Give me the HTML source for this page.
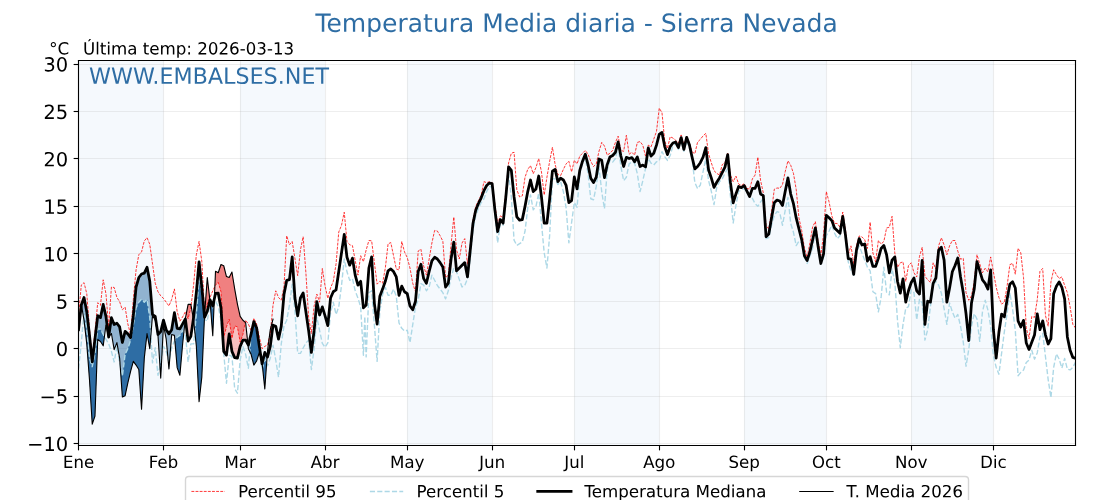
<!DOCTYPE html>
<html><head><meta charset="utf-8"><title>Temperatura Media diaria - Sierra Nevada</title>
<style>html,body{margin:0;padding:0;background:#fff;font-family:"Liberation Sans",sans-serif;}
#c{width:1120px;height:500px;overflow:hidden;position:relative}
#c svg{display:block;position:absolute;left:0;top:0}</style></head>
<body><div id="c">
<svg width="1120" height="500" viewBox="0 0 806.4 360" version="1.1">
<defs>
<style type="text/css">*{stroke-linejoin: round; stroke-linecap: butt}</style>
</defs>
<g id="figure_1">
<g id="patch_1">
<path d="M 0 360 
L 806.4 360 
L 806.4 0 
L 0 0 
z
" style="fill: #ffffff"/>
</g>
<g id="axes_1">
<g id="patch_2">
<path d="M 56.52 320.76 
L 774.36 320.76 
L 774.36 43.56 
L 56.52 43.56 
z
" style="fill: #ffffff"/>
</g>
<g id="patch_3">
<path d="M 56.556 320.76 
L 117.692712 320.76 
L 117.692712 43.56 
L 56.556 43.56 
z
" clip-path="url(#p9ce7e25676)" style="fill: #f5f9fd"/>
</g>
<g id="patch_4">
<path d="M 172.912968 320.76 
L 234.04968 320.76 
L 234.04968 43.56 
L 172.912968 43.56 
z
" clip-path="url(#p9ce7e25676)" style="fill: #f5f9fd"/>
</g>
<g id="patch_5">
<path d="M 293.21424 320.76 
L 354.350952 320.76 
L 354.350952 43.56 
L 293.21424 43.56 
z
" clip-path="url(#p9ce7e25676)" style="fill: #f5f9fd"/>
</g>
<g id="patch_6">
<path d="M 413.515512 320.76 
L 474.652224 320.76 
L 474.652224 43.56 
L 413.515512 43.56 
z
" clip-path="url(#p9ce7e25676)" style="fill: #f5f9fd"/>
</g>
<g id="patch_7">
<path d="M 535.788936 320.76 
L 594.953496 320.76 
L 594.953496 43.56 
L 535.788936 43.56 
z
" clip-path="url(#p9ce7e25676)" style="fill: #f5f9fd"/>
</g>
<g id="patch_8">
<path d="M 656.090208 320.76 
L 715.254768 320.76 
L 715.254768 43.56 
L 656.090208 43.56 
z
" clip-path="url(#p9ce7e25676)" style="fill: #f5f9fd"/>
</g>
<g id="line2d_1">
<path d="M 117.72 43.56 
L 117.72 320.76 
" style="fill: none; stroke: #b0b0b0; stroke-opacity: 0.21; stroke-width: 0.8"/>
</g>
<g id="line2d_2">
<path d="M 173.16 43.56 
L 173.16 320.76 
" style="fill: none; stroke: #b0b0b0; stroke-opacity: 0.21; stroke-width: 0.8"/>
</g>
<g id="line2d_3">
<path d="M 234.36 43.56 
L 234.36 320.76 
" style="fill: none; stroke: #b0b0b0; stroke-opacity: 0.21; stroke-width: 0.8"/>
</g>
<g id="line2d_4">
<path d="M 293.4 43.56 
L 293.4 320.76 
" style="fill: none; stroke: #b0b0b0; stroke-opacity: 0.21; stroke-width: 0.8"/>
</g>
<g id="line2d_5">
<path d="M 354.6 43.56 
L 354.6 320.76 
" style="fill: none; stroke: #b0b0b0; stroke-opacity: 0.21; stroke-width: 0.8"/>
</g>
<g id="line2d_6">
<path d="M 413.64 43.56 
L 413.64 320.76 
" style="fill: none; stroke: #b0b0b0; stroke-opacity: 0.21; stroke-width: 0.8"/>
</g>
<g id="line2d_7">
<path d="M 474.84 43.56 
L 474.84 320.76 
" style="fill: none; stroke: #b0b0b0; stroke-opacity: 0.21; stroke-width: 0.8"/>
</g>
<g id="line2d_8">
<path d="M 536.04 43.56 
L 536.04 320.76 
" style="fill: none; stroke: #b0b0b0; stroke-opacity: 0.21; stroke-width: 0.8"/>
</g>
<g id="line2d_9">
<path d="M 595.08 43.56 
L 595.08 320.76 
" style="fill: none; stroke: #b0b0b0; stroke-opacity: 0.21; stroke-width: 0.8"/>
</g>
<g id="line2d_10">
<path d="M 656.28 43.56 
L 656.28 320.76 
" style="fill: none; stroke: #b0b0b0; stroke-opacity: 0.21; stroke-width: 0.8"/>
</g>
<g id="line2d_11">
<path d="M 715.32 43.56 
L 715.32 320.76 
" style="fill: none; stroke: #b0b0b0; stroke-opacity: 0.21; stroke-width: 0.8"/>
</g>
<g id="line2d_12">
<path d="M 56.52 319.32 
L 774.36 319.32 
" style="fill: none; stroke: #b0b0b0; stroke-opacity: 0.21; stroke-width: 0.8"/>
</g>
<g id="line2d_13">
<path d="M 56.52 285.48 
L 774.36 285.48 
" style="fill: none; stroke: #b0b0b0; stroke-opacity: 0.21; stroke-width: 0.8"/>
</g>
<g id="line2d_14">
<path d="M 56.52 250.92 
L 774.36 250.92 
" style="fill: none; stroke: #b0b0b0; stroke-opacity: 0.21; stroke-width: 0.8"/>
</g>
<g id="line2d_15">
<path d="M 56.52 217.08 
L 774.36 217.08 
" style="fill: none; stroke: #b0b0b0; stroke-opacity: 0.21; stroke-width: 0.8"/>
</g>
<g id="line2d_16">
<path d="M 56.52 182.52 
L 774.36 182.52 
" style="fill: none; stroke: #b0b0b0; stroke-opacity: 0.21; stroke-width: 0.8"/>
</g>
<g id="line2d_17">
<path d="M 56.52 148.68 
L 774.36 148.68 
" style="fill: none; stroke: #b0b0b0; stroke-opacity: 0.21; stroke-width: 0.8"/>
</g>
<g id="line2d_18">
<path d="M 56.52 114.12 
L 774.36 114.12 
" style="fill: none; stroke: #b0b0b0; stroke-opacity: 0.21; stroke-width: 0.8"/>
</g>
<g id="line2d_19">
<path d="M 56.52 80.28 
L 774.36 80.28 
" style="fill: none; stroke: #b0b0b0; stroke-opacity: 0.21; stroke-width: 0.8"/>
</g>
<g id="line2d_20">
<path d="M 56.52 46.44 
L 774.36 46.44 
" style="fill: none; stroke: #b0b0b0; stroke-opacity: 0.21; stroke-width: 0.8"/>
</g>
<g id="FillBetweenPolyCollection_1">
<path d="M 58.607038 219.402876 
L 60.500304 230.55048 
L 62.472456 247.62708 
L 64.444608 273.583512 
L 66.41676 305.345988 
L 68.388912 299.539944 
L 70.361064 244.484986 
L 72.333216 245.851114 
L 74.305368 248.993208 
L 76.27752 233.9658 
L 78.249672 242.845632 
L 80.221824 240.113376 
L 82.193976 251.725464 
L 84.166128 246.67079 
L 86.13828 257.87304 
L 88.110432 285.878664 
L 90.082584 284.922374 
L 92.054736 275.632704 
L 94.026888 267.435936 
L 95.99904 260.195458 
L 97.971192 262.859407 
L 99.943344 266.069808 
L 101.915496 294.553577 
L 103.887648 257.87304 
L 105.8598 240.113376 
L 107.831952 251.0424 
L 109.804104 227.13516 
L 111.776256 230.55048 
L 113.748408 241.479504 
L 115.72056 272.217384 
L 117.692712 233.9658 
L 119.664864 244.21176 
L 121.637016 265.591663 
L 123.609168 240.79644 
L 125.58132 241.479504 
L 127.553472 264.70368 
L 129.525624 270.168192 
L 131.497776 247.62708 
L 133.415146 229.69665 
L 131.497776 233.282736 
L 129.525624 236.766362 
L 127.553472 236.356524 
L 125.58132 225.085968 
L 123.609168 237.38112 
L 121.637016 240.386602 
L 119.664864 237.38112 
L 117.692712 230.55048 
L 115.72056 238.747248 
L 113.748408 240.79644 
L 111.776256 227.818224 
L 109.804104 226.452096 
L 107.831952 202.544856 
L 105.8598 192.435509 
L 103.887648 196.670506 
L 101.915496 197.285263 
L 99.943344 199.8126 
L 97.971192 206.64324 
L 95.99904 227.13516 
L 94.026888 243.050551 
L 92.054736 240.386602 
L 90.082584 238.610635 
L 88.110432 246.602484 
L 86.13828 235.400234 
L 84.166128 232.736285 
L 82.193976 233.624268 
L 80.221824 228.706207 
L 78.249672 242.640713 
L 76.27752 227.818224 
L 74.305368 219.211618 
L 72.333216 228.706207 
L 70.361064 227.340079 
L 68.388912 244.21176 
L 66.41676 260.605296 
L 64.444608 241.479504 
L 62.472456 224.402904 
L 60.500304 214.156944 
z
" clip-path="url(#p9ce7e25676)" style="fill: #2e6da4; fill-opacity: 0.5"/>
<path d="M 139.225173 229.618014 
L 139.386384 230.55048 
L 141.358536 248.993208 
L 143.330688 289.157371 
L 145.30284 271.53432 
L 147.234329 228.050607 
L 145.30284 206.64324 
L 143.330688 188.542044 
L 141.358536 210.741624 
L 139.386384 228.501288 
z
" clip-path="url(#p9ce7e25676)" style="fill: #2e6da4; fill-opacity: 0.5"/>
<path d="M 151.139127 216.197806 
L 151.219296 216.8892 
L 153.191448 241.75273 
L 154.323543 215.128718 
L 153.191448 220.30452 
L 151.219296 215.864604 
z
" clip-path="url(#p9ce7e25676)" style="fill: #2e6da4; fill-opacity: 0.5"/>
<path d="M 178.500732 247.91169 
L 178.829424 251.0424 
L 180.801576 255.140784 
L 182.773728 262.859407 
L 184.74588 259.922232 
L 186.718032 253.774656 
L 188.423677 260.272995 
L 186.718032 249.403046 
L 184.74588 236.014992 
L 182.773728 231.575076 
L 180.801576 240.386602 
L 178.829424 248.515063 
z
" clip-path="url(#p9ce7e25676)" style="fill: #2e6da4; fill-opacity: 0.5"/>
<path d="M 188.740239 261.763384 
L 190.662336 280.004314 
L 192.337793 256.560106 
L 190.662336 253.774656 
z
" clip-path="url(#p9ce7e25676)" style="fill: #2e6da4; fill-opacity: 0.5"/>
</g>
<g id="FillBetweenPolyCollection_2">
<path d="M 56.556 236.014992 
L 56.556 236.014992 
L 58.528152 218.938392 
L 58.607038 219.402876 
L 58.528152 219.621456 
L 56.556 237.38112 
z
" clip-path="url(#p9ce7e25676)" style="fill: #f08080; fill-opacity: 0.5"/>
<path d="M 133.415146 229.69665 
L 133.469928 229.184352 
L 135.44208 219.143311 
L 137.414232 219.143311 
L 139.225173 229.618014 
L 137.414232 242.162568 
L 135.44208 245.577888 
L 133.469928 229.59419 
z
" clip-path="url(#p9ce7e25676)" style="fill: #f08080; fill-opacity: 0.5"/>
<path d="M 147.234329 228.050607 
L 147.274992 227.13516 
L 149.247144 199.880906 
L 151.139127 216.197806 
L 149.247144 224.061372 
L 147.274992 228.501288 
z
" clip-path="url(#p9ce7e25676)" style="fill: #f08080; fill-opacity: 0.5"/>
<path d="M 154.323543 215.128718 
L 155.1636 195.372684 
L 157.135752 196.39728 
L 159.107904 190.454623 
L 161.080056 191.342606 
L 163.052208 199.129536 
L 165.02436 199.8126 
L 166.996512 195.850829 
L 168.968664 208.009368 
L 170.940816 218.938392 
L 172.912968 227.818224 
L 174.88512 230.55048 
L 176.857272 232.25814 
L 178.500732 247.91169 
L 176.857272 244.894824 
L 174.88512 244.894824 
L 172.912968 249.403046 
L 170.940816 257.87304 
L 168.968664 257.463202 
L 166.996512 252.954979 
L 165.02436 240.386602 
L 163.052208 255.687235 
L 161.080056 252.954979 
L 159.107904 221.670648 
L 157.135752 211.083156 
L 155.1636 211.288075 
z
" clip-path="url(#p9ce7e25676)" style="fill: #f08080; fill-opacity: 0.5"/>
<path d="M 188.423677 260.272995 
L 188.690184 261.28836 
L 188.740239 261.763384 
L 188.690184 261.971424 
z
" clip-path="url(#p9ce7e25676)" style="fill: #f08080; fill-opacity: 0.5"/>
<path d="M 192.337793 256.560106 
L 192.634488 252.408528 
L 194.60664 237.38112 
L 196.578792 229.867416 
L 196.578792 229.867416 
L 196.578792 234.102413 
L 194.60664 249.403046 
L 192.634488 257.053363 
z
" clip-path="url(#p9ce7e25676)" style="fill: #f08080; fill-opacity: 0.5"/>
</g>
<g id="FillBetweenPolyCollection_3">
<path d="M 60.17832 228.654629 
L 60.500304 230.55048 
L 62.472456 247.62708 
L 64.444608 273.583512 
L 66.41676 305.345988 
L 68.388912 299.539944 
L 70.361064 244.484986 
L 72.333216 245.851114 
L 74.305368 248.993208 
L 75.18188 242.31436 
L 74.305368 240.79644 
L 72.333216 237.039588 
L 70.361064 236.698056 
L 68.388912 254.45772 
L 66.41676 264.020616 
L 64.444608 257.87304 
L 62.472456 237.38112 
L 60.500304 225.085968 
z
" clip-path="url(#p9ce7e25676)" style="fill: #2e6da4"/>
<path d="M 86.503493 263.059267 
L 88.110432 285.878664 
L 90.082584 284.922374 
L 92.054736 275.632704 
L 94.026888 267.435936 
L 95.99904 260.195458 
L 97.971192 262.859407 
L 99.943344 266.069808 
L 101.915496 294.553577 
L 103.887648 257.87304 
L 105.8598 240.113376 
L 107.831952 251.0424 
L 108.611751 241.589356 
L 107.831952 228.706207 
L 105.8598 215.523072 
L 103.887648 217.572264 
L 101.915496 215.523072 
L 99.943344 217.572264 
L 97.971192 221.670648 
L 95.99904 233.9658 
L 94.026888 244.894824 
L 92.054736 251.0424 
L 90.082584 255.140784 
L 88.110432 270.851256 
z
" clip-path="url(#p9ce7e25676)" style="fill: #2e6da4"/>
<path d="M 115.176518 263.737969 
L 115.72056 272.217384 
L 116.538032 256.361805 
L 115.72056 261.28836 
z
" clip-path="url(#p9ce7e25676)" style="fill: #2e6da4"/>
<path d="M 120.927818 257.903324 
L 121.637016 265.591663 
L 122.312918 257.09377 
L 121.637016 260.605296 
z
" clip-path="url(#p9ce7e25676)" style="fill: #2e6da4"/>
<path d="M 125.892712 245.146479 
L 127.553472 264.70368 
L 129.525624 270.168192 
L 131.497776 247.62708 
L 132.388425 239.298106 
L 131.497776 238.064184 
L 129.525624 241.479504 
L 127.553472 242.845632 
z
" clip-path="url(#p9ce7e25676)" style="fill: #2e6da4"/>
<path d="M 140.23645 238.499932 
L 141.358536 248.993208 
L 143.330688 289.157371 
L 145.30284 271.53432 
L 147.191071 229.024486 
L 145.30284 210.05856 
L 143.330688 199.8126 
L 141.358536 226.452096 
z
" clip-path="url(#p9ce7e25676)" style="fill: #2e6da4"/>
<path d="M 151.344911 218.472864 
L 153.191448 241.75273 
L 154.140405 219.435654 
L 153.191448 221.670648 
z
" clip-path="url(#p9ce7e25676)" style="fill: #2e6da4"/>
<path d="M 179.806018 253.071888 
L 180.801576 255.140784 
L 182.773728 262.859407 
L 184.74588 259.922232 
L 186.718032 253.774656 
L 187.628256 257.242519 
L 186.718032 249.676272 
L 184.74588 236.356524 
L 182.773728 231.916608 
L 180.801576 240.79644 
z
" clip-path="url(#p9ce7e25676)" style="fill: #2e6da4"/>
<path d="M 189.049691 264.700122 
L 190.662336 280.004314 
L 191.968783 261.723561 
L 190.662336 258.556104 
z
" clip-path="url(#p9ce7e25676)" style="fill: #2e6da4"/>
</g>
<g id="FillBetweenPolyCollection_4">
<path d="M 134.094592 226.003932 
L 135.44208 219.143311 
L 137.414232 219.143311 
L 137.593519 220.180327 
L 137.414232 221.670648 
L 135.44208 229.457578 
z
" clip-path="url(#p9ce7e25676)" style="fill: #f08080"/>
<path d="M 147.574711 222.993176 
L 149.247144 199.880906 
L 150.972004 214.756499 
L 149.247144 218.938392 
z
" clip-path="url(#p9ce7e25676)" style="fill: #f08080"/>
<path d="M 154.701626 206.237153 
L 155.1636 195.372684 
L 157.135752 196.39728 
L 159.107904 190.454623 
L 161.080056 191.342606 
L 163.052208 199.129536 
L 165.02436 199.8126 
L 166.996512 195.850829 
L 168.968664 208.009368 
L 170.940816 218.938392 
L 172.912968 227.818224 
L 174.88512 230.55048 
L 176.575536 232.014189 
L 174.88512 240.79644 
L 172.912968 246.260952 
L 170.940816 235.331928 
L 168.968664 234.648864 
L 166.996512 243.528696 
L 165.02436 229.867416 
L 163.052208 235.331928 
L 161.080056 242.845632 
L 159.107904 210.05856 
L 157.135752 203.22792 
L 155.1636 205.277112 
z
" clip-path="url(#p9ce7e25676)" style="fill: #f08080"/>
<path d="M 193.817779 243.392083 
L 194.60664 237.38112 
L 195.02183 235.799288 
L 194.60664 240.113376 
z
" clip-path="url(#p9ce7e25676)" style="fill: #f08080"/>
</g>
<g id="matplotlib.axis_1">
<g id="xtick_1">
<g id="line2d_21"/>
<g id="text_1">
<!-- Ene -->
<g transform="translate(45.270375 336.878125) scale(0.12 -0.12)">
<defs>
<path id="DejaVuSans-45" d="M 628 4666 
L 3578 4666 
L 3578 4134 
L 1259 4134 
L 1259 2753 
L 3481 2753 
L 3481 2222 
L 1259 2222 
L 1259 531 
L 3634 531 
L 3634 0 
L 628 0 
L 628 4666 
z
" transform="scale(0.015625)"/>
<path id="DejaVuSans-6e" d="M 3513 2113 
L 3513 0 
L 2938 0 
L 2938 2094 
Q 2938 2591 2744 2837 
Q 2550 3084 2163 3084 
Q 1697 3084 1428 2787 
Q 1159 2491 1159 1978 
L 1159 0 
L 581 0 
L 581 3500 
L 1159 3500 
L 1159 2956 
Q 1366 3272 1645 3428 
Q 1925 3584 2291 3584 
Q 2894 3584 3203 3211 
Q 3513 2838 3513 2113 
z
" transform="scale(0.015625)"/>
<path id="DejaVuSans-65" d="M 3597 1894 
L 3597 1613 
L 953 1613 
Q 991 1019 1311 708 
Q 1631 397 2203 397 
Q 2534 397 2845 478 
Q 3156 559 3463 722 
L 3463 178 
Q 3153 47 2828 -22 
Q 2503 -91 2169 -91 
Q 1331 -91 842 396 
Q 353 884 353 1716 
Q 353 2575 817 3079 
Q 1281 3584 2069 3584 
Q 2775 3584 3186 3129 
Q 3597 2675 3597 1894 
z
M 3022 2063 
Q 3016 2534 2758 2815 
Q 2500 3097 2075 3097 
Q 1594 3097 1305 2825 
Q 1016 2553 972 2059 
L 3022 2063 
z
" transform="scale(0.015625)"/>
</defs>
<use href="#DejaVuSans-45"/>
<use href="#DejaVuSans-6e" transform="translate(63.183594 0)"/>
<use href="#DejaVuSans-65" transform="translate(126.5625 0)"/>
</g>
</g>
</g>
<g id="xtick_2">
<g id="line2d_22"/>
<g id="text_2">
<!-- Feb -->
<g transform="translate(107.070837 336.878125) scale(0.12 -0.12)">
<defs>
<path id="DejaVuSans-46" d="M 628 4666 
L 3309 4666 
L 3309 4134 
L 1259 4134 
L 1259 2759 
L 3109 2759 
L 3109 2228 
L 1259 2228 
L 1259 0 
L 628 0 
L 628 4666 
z
" transform="scale(0.015625)"/>
<path id="DejaVuSans-62" d="M 3116 1747 
Q 3116 2381 2855 2742 
Q 2594 3103 2138 3103 
Q 1681 3103 1420 2742 
Q 1159 2381 1159 1747 
Q 1159 1113 1420 752 
Q 1681 391 2138 391 
Q 2594 391 2855 752 
Q 3116 1113 3116 1747 
z
M 1159 2969 
Q 1341 3281 1617 3432 
Q 1894 3584 2278 3584 
Q 2916 3584 3314 3078 
Q 3713 2572 3713 1747 
Q 3713 922 3314 415 
Q 2916 -91 2278 -91 
Q 1894 -91 1617 61 
Q 1341 213 1159 525 
L 1159 0 
L 581 0 
L 581 4863 
L 1159 4863 
L 1159 2969 
z
" transform="scale(0.015625)"/>
</defs>
<use href="#DejaVuSans-46"/>
<use href="#DejaVuSans-65" transform="translate(52.019531 0)"/>
<use href="#DejaVuSans-62" transform="translate(113.542969 0)"/>
</g>
</g>
</g>
<g id="xtick_3">
<g id="line2d_23"/>
<g id="text_3">
<!-- Mar -->
<g transform="translate(161.592656 336.878125) scale(0.12 -0.12)">
<defs>
<path id="DejaVuSans-4d" d="M 628 4666 
L 1569 4666 
L 2759 1491 
L 3956 4666 
L 4897 4666 
L 4897 0 
L 4281 0 
L 4281 4097 
L 3078 897 
L 2444 897 
L 1241 4097 
L 1241 0 
L 628 0 
L 628 4666 
z
" transform="scale(0.015625)"/>
<path id="DejaVuSans-61" d="M 2194 1759 
Q 1497 1759 1228 1600 
Q 959 1441 959 1056 
Q 959 750 1161 570 
Q 1363 391 1709 391 
Q 2188 391 2477 730 
Q 2766 1069 2766 1631 
L 2766 1759 
L 2194 1759 
z
M 3341 1997 
L 3341 0 
L 2766 0 
L 2766 531 
Q 2569 213 2275 61 
Q 1981 -91 1556 -91 
Q 1019 -91 701 211 
Q 384 513 384 1019 
Q 384 1609 779 1909 
Q 1175 2209 1959 2209 
L 2766 2209 
L 2766 2266 
Q 2766 2663 2505 2880 
Q 2244 3097 1772 3097 
Q 1472 3097 1187 3025 
Q 903 2953 641 2809 
L 641 3341 
Q 956 3463 1253 3523 
Q 1550 3584 1831 3584 
Q 2591 3584 2966 3190 
Q 3341 2797 3341 1997 
z
" transform="scale(0.015625)"/>
<path id="DejaVuSans-72" d="M 2631 2963 
Q 2534 3019 2420 3045 
Q 2306 3072 2169 3072 
Q 1681 3072 1420 2755 
Q 1159 2438 1159 1844 
L 1159 0 
L 581 0 
L 581 3500 
L 1159 3500 
L 1159 2956 
Q 1341 3275 1631 3429 
Q 1922 3584 2338 3584 
Q 2397 3584 2469 3576 
Q 2541 3569 2628 3553 
L 2631 2963 
z
" transform="scale(0.015625)"/>
</defs>
<use href="#DejaVuSans-4d"/>
<use href="#DejaVuSans-61" transform="translate(86.279297 0)"/>
<use href="#DejaVuSans-72" transform="translate(147.558594 0)"/>
</g>
</g>
</g>
<g id="xtick_4">
<g id="line2d_24"/>
<g id="text_4">
<!-- Abr -->
<g transform="translate(223.66968 336.878125) scale(0.12 -0.12)">
<defs>
<path id="DejaVuSans-41" d="M 2188 4044 
L 1331 1722 
L 3047 1722 
L 2188 4044 
z
M 1831 4666 
L 2547 4666 
L 4325 0 
L 3669 0 
L 3244 1197 
L 1141 1197 
L 716 0 
L 50 0 
L 1831 4666 
z
" transform="scale(0.015625)"/>
</defs>
<use href="#DejaVuSans-41"/>
<use href="#DejaVuSans-62" transform="translate(68.408203 0)"/>
<use href="#DejaVuSans-72" transform="translate(131.884766 0)"/>
</g>
</g>
</g>
<g id="xtick_5">
<g id="line2d_25"/>
<g id="text_5">
<!-- May -->
<g transform="translate(280.80924 336.878125) scale(0.12 -0.12)">
<defs>
<path id="DejaVuSans-79" d="M 2059 -325 
Q 1816 -950 1584 -1140 
Q 1353 -1331 966 -1331 
L 506 -1331 
L 506 -850 
L 844 -850 
Q 1081 -850 1212 -737 
Q 1344 -625 1503 -206 
L 1606 56 
L 191 3500 
L 800 3500 
L 1894 763 
L 2988 3500 
L 3597 3500 
L 2059 -325 
z
" transform="scale(0.015625)"/>
</defs>
<use href="#DejaVuSans-4d"/>
<use href="#DejaVuSans-61" transform="translate(86.279297 0)"/>
<use href="#DejaVuSans-79" transform="translate(147.558594 0)"/>
</g>
</g>
</g>
<g id="xtick_6">
<g id="line2d_26"/>
<g id="text_6">
<!-- Jun -->
<g transform="translate(344.975952 336.878125) scale(0.12 -0.12)">
<defs>
<path id="DejaVuSans-4a" d="M 628 4666 
L 1259 4666 
L 1259 325 
Q 1259 -519 939 -900 
Q 619 -1281 -91 -1281 
L -331 -1281 
L -331 -750 
L -134 -750 
Q 284 -750 456 -515 
Q 628 -281 628 325 
L 628 4666 
z
" transform="scale(0.015625)"/>
<path id="DejaVuSans-75" d="M 544 1381 
L 544 3500 
L 1119 3500 
L 1119 1403 
Q 1119 906 1312 657 
Q 1506 409 1894 409 
Q 2359 409 2629 706 
Q 2900 1003 2900 1516 
L 2900 3500 
L 3475 3500 
L 3475 0 
L 2900 0 
L 2900 538 
Q 2691 219 2414 64 
Q 2138 -91 1772 -91 
Q 1169 -91 856 284 
Q 544 659 544 1381 
z
M 1991 3584 
L 1991 3584 
z
" transform="scale(0.015625)"/>
</defs>
<use href="#DejaVuSans-4a"/>
<use href="#DejaVuSans-75" transform="translate(29.492188 0)"/>
<use href="#DejaVuSans-6e" transform="translate(92.871094 0)"/>
</g>
</g>
</g>
<g id="xtick_7">
<g id="line2d_27"/>
<g id="text_7">
<!-- Jul -->
<g transform="translate(406.276137 336.878125) scale(0.12 -0.12)">
<defs>
<path id="DejaVuSans-6c" d="M 603 4863 
L 1178 4863 
L 1178 0 
L 603 0 
L 603 4863 
z
" transform="scale(0.015625)"/>
</defs>
<use href="#DejaVuSans-4a"/>
<use href="#DejaVuSans-75" transform="translate(29.492188 0)"/>
<use href="#DejaVuSans-6c" transform="translate(92.871094 0)"/>
</g>
</g>
</g>
<g id="xtick_8">
<g id="line2d_28"/>
<g id="text_8">
<!-- Ago -->
<g transform="translate(463.067537 336.878125) scale(0.12 -0.12)">
<defs>
<path id="DejaVuSans-67" d="M 2906 1791 
Q 2906 2416 2648 2759 
Q 2391 3103 1925 3103 
Q 1463 3103 1205 2759 
Q 947 2416 947 1791 
Q 947 1169 1205 825 
Q 1463 481 1925 481 
Q 2391 481 2648 825 
Q 2906 1169 2906 1791 
z
M 3481 434 
Q 3481 -459 3084 -895 
Q 2688 -1331 1869 -1331 
Q 1566 -1331 1297 -1286 
Q 1028 -1241 775 -1147 
L 775 -588 
Q 1028 -725 1275 -790 
Q 1522 -856 1778 -856 
Q 2344 -856 2625 -561 
Q 2906 -266 2906 331 
L 2906 616 
Q 2728 306 2450 153 
Q 2172 0 1784 0 
Q 1141 0 747 490 
Q 353 981 353 1791 
Q 353 2603 747 3093 
Q 1141 3584 1784 3584 
Q 2172 3584 2450 3431 
Q 2728 3278 2906 2969 
L 2906 3500 
L 3481 3500 
L 3481 434 
z
" transform="scale(0.015625)"/>
<path id="DejaVuSans-6f" d="M 1959 3097 
Q 1497 3097 1228 2736 
Q 959 2375 959 1747 
Q 959 1119 1226 758 
Q 1494 397 1959 397 
Q 2419 397 2687 759 
Q 2956 1122 2956 1747 
Q 2956 2369 2687 2733 
Q 2419 3097 1959 3097 
z
M 1959 3584 
Q 2709 3584 3137 3096 
Q 3566 2609 3566 1747 
Q 3566 888 3137 398 
Q 2709 -91 1959 -91 
Q 1206 -91 779 398 
Q 353 888 353 1747 
Q 353 2609 779 3096 
Q 1206 3584 1959 3584 
z
" transform="scale(0.015625)"/>
</defs>
<use href="#DejaVuSans-41"/>
<use href="#DejaVuSans-67" transform="translate(68.408203 0)"/>
<use href="#DejaVuSans-6f" transform="translate(131.884766 0)"/>
</g>
</g>
</g>
<g id="xtick_9">
<g id="line2d_29"/>
<g id="text_9">
<!-- Sep -->
<g transform="translate(524.478936 336.878125) scale(0.12 -0.12)">
<defs>
<path id="DejaVuSans-53" d="M 3425 4513 
L 3425 3897 
Q 3066 4069 2747 4153 
Q 2428 4238 2131 4238 
Q 1616 4238 1336 4038 
Q 1056 3838 1056 3469 
Q 1056 3159 1242 3001 
Q 1428 2844 1947 2747 
L 2328 2669 
Q 3034 2534 3370 2195 
Q 3706 1856 3706 1288 
Q 3706 609 3251 259 
Q 2797 -91 1919 -91 
Q 1588 -91 1214 -16 
Q 841 59 441 206 
L 441 856 
Q 825 641 1194 531 
Q 1563 422 1919 422 
Q 2459 422 2753 634 
Q 3047 847 3047 1241 
Q 3047 1584 2836 1778 
Q 2625 1972 2144 2069 
L 1759 2144 
Q 1053 2284 737 2584 
Q 422 2884 422 3419 
Q 422 4038 858 4394 
Q 1294 4750 2059 4750 
Q 2388 4750 2728 4690 
Q 3069 4631 3425 4513 
z
" transform="scale(0.015625)"/>
<path id="DejaVuSans-70" d="M 1159 525 
L 1159 -1331 
L 581 -1331 
L 581 3500 
L 1159 3500 
L 1159 2969 
Q 1341 3281 1617 3432 
Q 1894 3584 2278 3584 
Q 2916 3584 3314 3078 
Q 3713 2572 3713 1747 
Q 3713 922 3314 415 
Q 2916 -91 2278 -91 
Q 1894 -91 1617 61 
Q 1341 213 1159 525 
z
M 3116 1747 
Q 3116 2381 2855 2742 
Q 2594 3103 2138 3103 
Q 1681 3103 1420 2742 
Q 1159 2381 1159 1747 
Q 1159 1113 1420 752 
Q 1681 391 2138 391 
Q 2594 391 2855 752 
Q 3116 1113 3116 1747 
z
" transform="scale(0.015625)"/>
</defs>
<use href="#DejaVuSans-53"/>
<use href="#DejaVuSans-65" transform="translate(63.476562 0)"/>
<use href="#DejaVuSans-70" transform="translate(125 0)"/>
</g>
</g>
</g>
<g id="xtick_10">
<g id="line2d_30"/>
<g id="text_10">
<!-- Oct -->
<g transform="translate(584.579121 336.878125) scale(0.12 -0.12)">
<defs>
<path id="DejaVuSans-4f" d="M 2522 4238 
Q 1834 4238 1429 3725 
Q 1025 3213 1025 2328 
Q 1025 1447 1429 934 
Q 1834 422 2522 422 
Q 3209 422 3611 934 
Q 4013 1447 4013 2328 
Q 4013 3213 3611 3725 
Q 3209 4238 2522 4238 
z
M 2522 4750 
Q 3503 4750 4090 4092 
Q 4678 3434 4678 2328 
Q 4678 1225 4090 567 
Q 3503 -91 2522 -91 
Q 1538 -91 948 565 
Q 359 1222 359 2328 
Q 359 3434 948 4092 
Q 1538 4750 2522 4750 
z
" transform="scale(0.015625)"/>
<path id="DejaVuSans-63" d="M 3122 3366 
L 3122 2828 
Q 2878 2963 2633 3030 
Q 2388 3097 2138 3097 
Q 1578 3097 1268 2742 
Q 959 2388 959 1747 
Q 959 1106 1268 751 
Q 1578 397 2138 397 
Q 2388 397 2633 464 
Q 2878 531 3122 666 
L 3122 134 
Q 2881 22 2623 -34 
Q 2366 -91 2075 -91 
Q 1284 -91 818 406 
Q 353 903 353 1747 
Q 353 2603 823 3093 
Q 1294 3584 2113 3584 
Q 2378 3584 2631 3529 
Q 2884 3475 3122 3366 
z
" transform="scale(0.015625)"/>
<path id="DejaVuSans-74" d="M 1172 4494 
L 1172 3500 
L 2356 3500 
L 2356 3053 
L 1172 3053 
L 1172 1153 
Q 1172 725 1289 603 
Q 1406 481 1766 481 
L 2356 481 
L 2356 0 
L 1766 0 
Q 1100 0 847 248 
Q 594 497 594 1153 
L 594 3053 
L 172 3053 
L 172 3500 
L 594 3500 
L 594 4494 
L 1172 4494 
z
" transform="scale(0.015625)"/>
</defs>
<use href="#DejaVuSans-4f"/>
<use href="#DejaVuSans-63" transform="translate(78.710938 0)"/>
<use href="#DejaVuSans-74" transform="translate(133.691406 0)"/>
</g>
</g>
</g>
<g id="xtick_11">
<g id="line2d_31"/>
<g id="text_11">
<!-- Nov -->
<g transform="translate(644.378958 336.878125) scale(0.12 -0.12)">
<defs>
<path id="DejaVuSans-4e" d="M 628 4666 
L 1478 4666 
L 3547 763 
L 3547 4666 
L 4159 4666 
L 4159 0 
L 3309 0 
L 1241 3903 
L 1241 0 
L 628 0 
L 628 4666 
z
" transform="scale(0.015625)"/>
<path id="DejaVuSans-76" d="M 191 3500 
L 800 3500 
L 1894 563 
L 2988 3500 
L 3597 3500 
L 2284 0 
L 1503 0 
L 191 3500 
z
" transform="scale(0.015625)"/>
</defs>
<use href="#DejaVuSans-4e"/>
<use href="#DejaVuSans-6f" transform="translate(74.804688 0)"/>
<use href="#DejaVuSans-76" transform="translate(135.986328 0)"/>
</g>
</g>
</g>
<g id="xtick_12">
<g id="line2d_32"/>
<g id="text_12">
<!-- Dic -->
<g transform="translate(705.668831 336.878125) scale(0.12 -0.12)">
<defs>
<path id="DejaVuSans-44" d="M 1259 4147 
L 1259 519 
L 2022 519 
Q 2988 519 3436 956 
Q 3884 1394 3884 2338 
Q 3884 3275 3436 3711 
Q 2988 4147 2022 4147 
L 1259 4147 
z
M 628 4666 
L 1925 4666 
Q 3281 4666 3915 4102 
Q 4550 3538 4550 2338 
Q 4550 1131 3912 565 
Q 3275 0 1925 0 
L 628 0 
L 628 4666 
z
" transform="scale(0.015625)"/>
<path id="DejaVuSans-69" d="M 603 3500 
L 1178 3500 
L 1178 0 
L 603 0 
L 603 3500 
z
M 603 4863 
L 1178 4863 
L 1178 4134 
L 603 4134 
L 603 4863 
z
" transform="scale(0.015625)"/>
</defs>
<use href="#DejaVuSans-44"/>
<use href="#DejaVuSans-69" transform="translate(77.001953 0)"/>
<use href="#DejaVuSans-63" transform="translate(104.785156 0)"/>
</g>
</g>
</g>
</g>
<g id="matplotlib.axis_2">
<g id="ytick_1">
<g id="line2d_33"/>
<g id="text_13">
<!-- −10 -->
<g transform="translate(19.523437 324.667706) scale(0.14 -0.14)">
<defs>
<path id="DejaVuSans-2212" d="M 678 2272 
L 4684 2272 
L 4684 1741 
L 678 1741 
L 678 2272 
z
" transform="scale(0.015625)"/>
<path id="DejaVuSans-31" d="M 794 531 
L 1825 531 
L 1825 4091 
L 703 3866 
L 703 4441 
L 1819 4666 
L 2450 4666 
L 2450 531 
L 3481 531 
L 3481 0 
L 794 0 
L 794 531 
z
" transform="scale(0.015625)"/>
<path id="DejaVuSans-30" d="M 2034 4250 
Q 1547 4250 1301 3770 
Q 1056 3291 1056 2328 
Q 1056 1369 1301 889 
Q 1547 409 2034 409 
Q 2525 409 2770 889 
Q 3016 1369 3016 2328 
Q 3016 3291 2770 3770 
Q 2525 4250 2034 4250 
z
M 2034 4750 
Q 2819 4750 3233 4129 
Q 3647 3509 3647 2328 
Q 3647 1150 3233 529 
Q 2819 -91 2034 -91 
Q 1250 -91 836 529 
Q 422 1150 422 2328 
Q 422 3509 836 4129 
Q 1250 4750 2034 4750 
z
" transform="scale(0.015625)"/>
</defs>
<use href="#DejaVuSans-2212"/>
<use href="#DejaVuSans-31" transform="translate(83.789062 0)"/>
<use href="#DejaVuSans-30" transform="translate(147.412109 0)"/>
</g>
</g>
</g>
<g id="ytick_2">
<g id="line2d_34"/>
<g id="text_14">
<!-- −5 -->
<g transform="translate(28.430937 290.514506) scale(0.14 -0.14)">
<defs>
<path id="DejaVuSans-35" d="M 691 4666 
L 3169 4666 
L 3169 4134 
L 1269 4134 
L 1269 2991 
Q 1406 3038 1543 3061 
Q 1681 3084 1819 3084 
Q 2600 3084 3056 2656 
Q 3513 2228 3513 1497 
Q 3513 744 3044 326 
Q 2575 -91 1722 -91 
Q 1428 -91 1123 -41 
Q 819 9 494 109 
L 494 744 
Q 775 591 1075 516 
Q 1375 441 1709 441 
Q 2250 441 2565 725 
Q 2881 1009 2881 1497 
Q 2881 1984 2565 2268 
Q 2250 2553 1709 2553 
Q 1456 2553 1204 2497 
Q 953 2441 691 2322 
L 691 4666 
z
" transform="scale(0.015625)"/>
</defs>
<use href="#DejaVuSans-2212"/>
<use href="#DejaVuSans-35" transform="translate(83.789062 0)"/>
</g>
</g>
</g>
<g id="ytick_3">
<g id="line2d_35"/>
<g id="text_15">
<!-- 0 -->
<g transform="translate(40.1625 256.361306) scale(0.14 -0.14)">
<use href="#DejaVuSans-30"/>
</g>
</g>
</g>
<g id="ytick_4">
<g id="line2d_36"/>
<g id="text_16">
<!-- 5 -->
<g transform="translate(40.1625 222.208106) scale(0.14 -0.14)">
<use href="#DejaVuSans-35"/>
</g>
</g>
</g>
<g id="ytick_5">
<g id="line2d_37"/>
<g id="text_17">
<!-- 10 -->
<g transform="translate(31.255 188.054906) scale(0.14 -0.14)">
<use href="#DejaVuSans-31"/>
<use href="#DejaVuSans-30" transform="translate(63.623047 0)"/>
</g>
</g>
</g>
<g id="ytick_6">
<g id="line2d_38"/>
<g id="text_18">
<!-- 15 -->
<g transform="translate(31.255 153.901706) scale(0.14 -0.14)">
<use href="#DejaVuSans-31"/>
<use href="#DejaVuSans-35" transform="translate(63.623047 0)"/>
</g>
</g>
</g>
<g id="ytick_7">
<g id="line2d_39"/>
<g id="text_19">
<!-- 20 -->
<g transform="translate(31.255 119.748506) scale(0.14 -0.14)">
<defs>
<path id="DejaVuSans-32" d="M 1228 531 
L 3431 531 
L 3431 0 
L 469 0 
L 469 531 
Q 828 903 1448 1529 
Q 2069 2156 2228 2338 
Q 2531 2678 2651 2914 
Q 2772 3150 2772 3378 
Q 2772 3750 2511 3984 
Q 2250 4219 1831 4219 
Q 1534 4219 1204 4116 
Q 875 4013 500 3803 
L 500 4441 
Q 881 4594 1212 4672 
Q 1544 4750 1819 4750 
Q 2544 4750 2975 4387 
Q 3406 4025 3406 3419 
Q 3406 3131 3298 2873 
Q 3191 2616 2906 2266 
Q 2828 2175 2409 1742 
Q 1991 1309 1228 531 
z
" transform="scale(0.015625)"/>
</defs>
<use href="#DejaVuSans-32"/>
<use href="#DejaVuSans-30" transform="translate(63.623047 0)"/>
</g>
</g>
</g>
<g id="ytick_8">
<g id="line2d_40"/>
<g id="text_20">
<!-- 25 -->
<g transform="translate(31.255 85.595306) scale(0.14 -0.14)">
<use href="#DejaVuSans-32"/>
<use href="#DejaVuSans-35" transform="translate(63.623047 0)"/>
</g>
</g>
</g>
<g id="ytick_9">
<g id="line2d_41"/>
<g id="text_21">
<!-- 30 -->
<g transform="translate(31.255 51.442106) scale(0.14 -0.14)">
<defs>
<path id="DejaVuSans-33" d="M 2597 2516 
Q 3050 2419 3304 2112 
Q 3559 1806 3559 1356 
Q 3559 666 3084 287 
Q 2609 -91 1734 -91 
Q 1441 -91 1130 -33 
Q 819 25 488 141 
L 488 750 
Q 750 597 1062 519 
Q 1375 441 1716 441 
Q 2309 441 2620 675 
Q 2931 909 2931 1356 
Q 2931 1769 2642 2001 
Q 2353 2234 1838 2234 
L 1294 2234 
L 1294 2753 
L 1863 2753 
Q 2328 2753 2575 2939 
Q 2822 3125 2822 3475 
Q 2822 3834 2567 4026 
Q 2313 4219 1838 4219 
Q 1578 4219 1281 4162 
Q 984 4106 628 3988 
L 628 4550 
Q 988 4650 1302 4700 
Q 1616 4750 1894 4750 
Q 2613 4750 3031 4423 
Q 3450 4097 3450 3541 
Q 3450 3153 3228 2886 
Q 3006 2619 2597 2516 
z
" transform="scale(0.015625)"/>
</defs>
<use href="#DejaVuSans-33"/>
<use href="#DejaVuSans-30" transform="translate(63.623047 0)"/>
</g>
</g>
</g>
</g>
<g id="line2d_42">
<path d="M 56.556 227.13516 
L 58.528152 205.277112 
L 60.500304 203.501146 
L 62.472456 211.424688 
L 64.444608 236.698056 
L 66.41676 257.87304 
L 68.388912 238.747248 
L 70.361064 217.913796 
L 72.333216 219.826375 
L 74.305368 201.451954 
L 76.27752 211.424688 
L 78.249672 235.331928 
L 80.221824 206.64324 
L 82.193976 206.984772 
L 84.166128 214.156944 
L 86.13828 217.230732 
L 88.110432 223.036776 
L 90.082584 221.124197 
L 92.054736 233.282736 
L 94.026888 240.79644 
L 95.99904 215.523072 
L 97.971192 194.348088 
L 99.943344 183.419064 
L 101.915496 181.369872 
L 103.887648 173.514636 
L 105.8598 171.123912 
L 107.831952 175.90536 
L 111.776256 203.910984 
L 113.748408 210.05856 
L 115.72056 212.995735 
L 117.692712 214.840008 
L 121.637016 220.30452 
L 123.609168 215.523072 
L 125.58132 208.009368 
L 127.553472 224.402904 
L 129.525624 231.233544 
L 131.497776 228.159756 
L 133.469928 224.402904 
L 135.44208 229.457578 
L 137.414232 221.670648 
L 139.386384 205.277112 
L 141.358536 183.419064 
L 143.330688 173.856168 
L 145.30284 188.200512 
L 147.274992 223.71984 
L 153.191448 209.375496 
L 155.1636 205.277112 
L 157.135752 203.22792 
L 159.107904 210.05856 
L 161.080056 242.845632 
L 163.052208 235.331928 
L 165.02436 229.867416 
L 166.996512 243.528696 
L 168.968664 234.648864 
L 170.940816 235.331928 
L 172.912968 246.260952 
L 174.88512 240.79644 
L 176.857272 230.55048 
L 178.829424 233.282736 
L 180.801576 238.064184 
L 182.773728 229.184352 
L 184.74588 233.282736 
L 186.718032 242.845632 
L 188.690184 251.0424 
L 190.662336 249.403046 
L 192.634488 248.310144 
L 194.60664 240.113376 
L 196.578792 219.621456 
L 198.550944 209.375496 
L 200.523096 214.156944 
L 202.495248 216.206136 
L 204.4674 206.64324 
L 206.439552 169.757784 
L 208.411704 176.246892 
L 210.383856 173.856168 
L 214.32816 198.446472 
L 216.300312 180.003744 
L 218.272464 170.440848 
L 220.244616 196.39728 
L 222.216768 228.501288 
L 224.18892 240.113376 
L 226.161072 220.30452 
L 228.133224 211.76622 
L 230.105376 217.572264 
L 232.077528 193.323492 
L 234.04968 205.960176 
L 236.021832 214.840008 
L 237.993984 207.326304 
L 239.966136 202.544856 
L 241.938288 190.249704 
L 243.91044 167.025528 
L 245.882592 162.24408 
L 247.854744 152.817797 
L 249.826896 173.856168 
L 251.799048 176.246892 
L 253.7712 176.86165 
L 257.715504 198.10494 
L 259.687656 184.102128 
L 261.659808 188.405431 
L 263.63196 180.003744 
L 265.604112 173.173104 
L 267.576264 173.378023 
L 271.520568 204.594048 
L 273.49272 202.544856 
L 275.464872 203.910984 
L 277.437024 192.98196 
L 279.409176 175.563828 
L 281.381328 174.675845 
L 285.325632 193.665024 
L 287.297784 194.348088 
L 289.269936 173.856168 
L 291.242088 181.369872 
L 293.21424 185.468256 
L 295.186392 192.98196 
L 297.158544 203.910984 
L 299.130696 210.05856 
L 301.102848 180.686808 
L 303.075 179.457293 
L 305.047152 191.615832 
L 307.019304 198.10494 
L 310.963608 174.94907 
L 312.93576 165.932626 
L 314.907912 166.342464 
L 316.880064 169.757784 
L 318.852216 173.651249 
L 320.824368 199.8126 
L 322.79652 198.10494 
L 324.768672 176.246892 
L 326.740824 156.301423 
L 328.712976 180.003744 
L 330.685128 186.492852 
L 332.65728 174.94907 
L 334.629432 171.806976 
L 336.601584 190.249704 
L 338.573736 176.588424 
L 340.545888 158.145696 
L 342.51804 148.5828 
L 346.462344 140.386032 
L 348.434496 130.823136 
L 350.406648 131.5062 
L 352.3788 130.823136 
L 354.350952 131.5062 
L 356.323104 147.216672 
L 358.295256 160.877952 
L 360.267408 155.41344 
L 362.23956 156.779568 
L 364.211712 137.927002 
L 366.183864 117.366775 
L 368.156016 110.331216 
L 370.128168 109.648152 
L 372.10032 136.62918 
L 374.072472 141.75216 
L 376.044624 141.069096 
L 378.016776 127.612735 
L 379.988928 121.943304 
L 381.96108 119.211048 
L 383.933232 125.085398 
L 385.905384 120.577176 
L 387.877536 114.156374 
L 389.849688 123.787577 
L 391.82184 140.386032 
L 393.793992 127.612735 
L 395.766144 116.068954 
L 397.738296 106.027913 
L 399.710448 118.527984 
L 401.6826 125.700156 
L 403.654752 126.38322 
L 405.626904 121.943304 
L 407.599056 117.981533 
L 409.571208 116.068954 
L 411.54336 123.787577 
L 413.515512 115.454196 
L 415.487664 117.981533 
L 417.459816 112.380408 
L 421.40412 108.282024 
L 423.376272 111.01428 
L 425.348424 116.068954 
L 427.320576 119.894112 
L 429.292728 117.981533 
L 431.26488 108.965088 
L 433.237032 102.544286 
L 435.209184 105.13993 
L 437.181336 111.697344 
L 439.153488 110.331216 
L 441.12564 108.282024 
L 443.097792 102.544286 
L 445.069944 98.036064 
L 447.042096 108.282024 
L 449.014248 108.965088 
L 450.9864 97.421306 
L 452.958552 111.01428 
L 454.930704 109.648152 
L 456.902856 111.697344 
L 458.875008 102.544286 
L 460.84716 101.929529 
L 462.819312 104.525172 
L 464.791464 112.380408 
L 466.763616 104.525172 
L 468.735768 105.754687 
L 472.680072 94.620744 
L 474.652224 77.885676 
L 476.624376 81.096077 
L 478.596528 101.451384 
L 480.56868 106.915896 
L 482.540832 98.445902 
L 484.512984 99.402192 
L 486.485136 101.041546 
L 488.457288 102.954125 
L 490.42944 97.148081 
L 492.401592 104.18364 
L 494.373744 98.036064 
L 496.345896 102.817512 
L 498.318048 109.374926 
L 500.2902 110.672748 
L 502.262352 102.271061 
L 504.234504 100.358482 
L 506.206656 97.831145 
L 508.178808 95.986872 
L 510.15096 110.672748 
L 512.123112 117.161856 
L 514.095264 122.899594 
L 516.067416 124.812173 
L 518.039568 126.041688 
L 520.01172 118.527984 
L 521.983872 117.161856 
L 523.956024 110.331216 
L 525.928176 126.041688 
L 527.900328 130.823136 
L 529.87248 126.724752 
L 531.844632 132.530796 
L 533.816784 133.555392 
L 535.788936 132.189264 
L 537.761088 135.604584 
L 539.73324 136.287648 
L 541.705392 128.773944 
L 543.677544 126.041688 
L 545.649696 113.200085 
L 547.621848 129.935153 
L 549.594 139.019904 
L 551.566152 162.24408 
L 553.538304 164.976336 
L 555.510456 151.99812 
L 557.482608 136.287648 
L 559.45476 135.331358 
L 561.426912 135.604584 
L 563.399064 132.872328 
L 565.371216 123.514351 
L 567.343368 115.795728 
L 569.31552 119.006129 
L 571.287672 124.812173 
L 573.259824 136.287648 
L 575.231976 156.916181 
L 577.204128 165.932626 
L 579.17628 178.637616 
L 581.148432 185.468256 
L 583.120584 174.94907 
L 585.092736 163.336982 
L 587.064888 159.511824 
L 589.03704 173.651249 
L 591.009192 183.965515 
L 592.981344 168.528269 
L 594.953496 137.927002 
L 596.925648 145.372399 
L 598.8978 155.41344 
L 600.869952 160.877952 
L 602.842104 160.877952 
L 604.814256 163.610208 
L 606.786408 152.681184 
L 608.75856 165.6594 
L 610.730712 183.419064 
L 612.702864 176.998262 
L 614.675016 189.839866 
L 616.647168 176.998262 
L 618.61932 169.894397 
L 620.591472 170.577461 
L 622.563624 172.49004 
L 624.535776 178.910842 
L 626.507928 159.989969 
L 628.48008 182.121242 
L 630.452232 188.542044 
L 632.424384 173.173104 
L 634.396536 175.700441 
L 636.368688 173.856168 
L 638.34084 164.156659 
L 640.312992 163.610208 
L 642.285144 155.754972 
L 644.257296 182.121242 
L 646.229448 192.435509 
L 648.2016 189.225108 
L 650.173752 188.542044 
L 652.145904 202.681469 
L 654.118056 191.137687 
L 656.090208 189.225108 
L 658.06236 196.39728 
L 660.034512 199.471068 
L 662.006664 184.785192 
L 663.978816 178.022858 
L 665.950968 198.85631 
L 667.92312 201.451954 
L 669.895272 203.364533 
L 671.867424 189.225108 
L 673.839576 193.665024 
L 675.811728 176.998262 
L 677.78388 171.192218 
L 679.756032 176.383505 
L 681.728184 183.419064 
L 683.700336 176.998262 
L 685.672488 173.173104 
L 687.64464 173.173104 
L 689.616792 180.823421 
L 691.588944 186.629465 
L 693.561096 186.014707 
L 695.533248 210.741624 
L 697.5054 216.206136 
L 699.477552 212.995735 
L 701.449704 202.681469 
L 703.421856 183.419064 
L 707.36616 196.39728 
L 709.338312 193.050266 
L 711.310464 195.714216 
L 713.282616 184.990111 
L 717.22692 206.64324 
L 719.199072 214.156944 
L 721.171224 218.938392 
L 723.143376 217.572264 
L 725.115528 205.960176 
L 727.08768 190.591236 
L 729.059832 189.56664 
L 731.031984 197.421876 
L 733.004136 178.774229 
L 734.976288 182.052936 
L 736.94844 199.8126 
L 738.920592 236.014992 
L 740.892744 243.870228 
L 742.864896 227.818224 
L 744.837048 228.501288 
L 746.8092 215.864604 
L 748.781352 195.236071 
L 750.753504 193.323492 
L 752.725656 227.13516 
L 754.697808 234.853783 
L 756.66996 202.954694 
L 758.642112 194.211475 
L 760.614264 197.763408 
L 762.586416 200.495664 
L 764.558568 199.402762 
L 766.53072 205.550338 
L 768.502872 210.741624 
L 770.475024 220.987584 
L 772.447176 233.555962 
L 774.419328 236.151605 
L 774.419328 236.151605 
" clip-path="url(#p9ce7e25676)" style="fill: none; stroke-dasharray: 2.072,0.896; stroke-dashoffset: 0; stroke: #ff0000; stroke-width: 0.56"/>
</g>
<g id="line2d_43">
<path d="M 56.556 265.386744 
L 58.528152 246.944016 
L 60.500304 225.085968 
L 62.472456 237.38112 
L 64.444608 257.87304 
L 66.41676 264.020616 
L 68.388912 254.45772 
L 70.361064 236.698056 
L 72.333216 237.039588 
L 74.305368 240.79644 
L 78.249672 247.62708 
L 80.221824 252.954979 
L 82.193976 260.605296 
L 84.166128 249.403046 
L 86.13828 261.28836 
L 88.110432 270.851256 
L 90.082584 255.140784 
L 92.054736 251.0424 
L 94.026888 244.894824 
L 95.99904 233.9658 
L 97.971192 221.670648 
L 99.943344 217.572264 
L 101.915496 215.523072 
L 103.887648 217.572264 
L 105.8598 215.523072 
L 107.831952 228.706207 
L 109.804104 261.28836 
L 111.776256 250.359336 
L 113.748408 270.168192 
L 115.72056 261.28836 
L 117.692712 249.403046 
L 119.664864 253.091592 
L 121.637016 260.605296 
L 123.609168 250.359336 
L 125.58132 245.577888 
L 127.553472 242.845632 
L 129.525624 241.479504 
L 131.497776 238.064184 
L 133.469928 240.79644 
L 135.44208 260.605296 
L 137.414232 247.62708 
L 139.386384 247.62708 
L 141.358536 226.452096 
L 143.330688 199.8126 
L 145.30284 210.05856 
L 147.274992 229.867416 
L 149.247144 231.233544 
L 151.219296 218.255328 
L 153.191448 221.670648 
L 155.1636 217.025813 
L 157.135752 220.577746 
L 159.107904 230.55048 
L 161.080056 254.45772 
L 163.052208 275.90593 
L 165.02436 255.823848 
L 166.996512 256.506912 
L 168.968664 279.731088 
L 170.940816 283.146408 
L 172.912968 259.239168 
L 174.88512 249.403046 
L 176.857272 255.140784 
L 178.829424 265.113518 
L 180.801576 240.79644 
L 182.773728 231.916608 
L 184.74588 236.356524 
L 186.718032 249.676272 
L 188.690184 266.069808 
L 190.662336 258.556104 
L 192.634488 263.337552 
L 194.60664 257.87304 
L 196.578792 248.515063 
L 198.550944 259.239168 
L 200.523096 271.53432 
L 202.495248 247.62708 
L 204.4674 234.648864 
L 206.439552 230.55048 
L 208.411704 219.621456 
L 210.383856 204.594048 
L 212.356008 223.71984 
L 214.32816 254.45772 
L 216.300312 254.45772 
L 218.272464 250.564255 
L 220.244616 246.944016 
L 222.216768 244.894824 
L 224.18892 266.069808 
L 226.161072 251.0424 
L 228.133224 228.501288 
L 232.077528 247.285548 
L 234.04968 250.017804 
L 236.021832 246.944016 
L 237.993984 225.085968 
L 239.966136 217.572264 
L 241.938288 226.452096 
L 243.91044 220.987584 
L 245.882592 205.550338 
L 247.854744 186.492852 
L 249.826896 195.714216 
L 251.799048 201.861792 
L 253.7712 200.632277 
L 255.743352 209.375496 
L 257.715504 214.566782 
L 259.687656 220.987584 
L 261.659808 255.823848 
L 262.645884 227.818224 
L 263.63196 256.985057 
L 265.604112 210.741624 
L 267.576264 209.375496 
L 269.548416 233.9658 
L 271.520568 260.195458 
L 273.49272 223.71984 
L 275.464872 212.107752 
L 277.437024 206.848159 
L 279.409176 212.585897 
L 281.381328 212.585897 
L 283.35348 208.145981 
L 285.325632 213.268961 
L 287.297784 232.599672 
L 289.269936 236.42483 
L 291.242088 238.33741 
L 293.21424 237.722652 
L 295.186392 246.67079 
L 299.130696 220.987584 
L 301.102848 215.864604 
L 303.075 204.252516 
L 305.047152 205.277112 
L 307.019304 209.375496 
L 308.991456 206.64324 
L 310.963608 198.10494 
L 314.907912 205.550338 
L 318.852216 210.741624 
L 320.824368 215.18154 
L 322.79652 209.375496 
L 324.768672 199.8126 
L 326.740824 192.98196 
L 328.712976 195.714216 
L 332.65728 206.64324 
L 334.629432 205.550338 
L 336.601584 200.632277 
L 338.573736 186.15132 
L 340.545888 165.6594 
L 342.51804 155.41344 
L 344.490192 149.948928 
L 346.462344 145.850544 
L 348.434496 143.118288 
L 350.406648 137.927002 
L 352.3788 134.238456 
L 354.350952 134.92152 
L 356.323104 153.364248 
L 358.295256 174.812458 
L 360.267408 160.877952 
L 362.23956 162.24408 
L 364.211712 145.16748 
L 366.183864 125.085398 
L 368.156016 141.75216 
L 370.128168 172.899878 
L 372.10032 176.725037 
L 376.044624 174.1977 
L 378.016776 166.479077 
L 379.988928 149.744009 
L 381.96108 140.386032 
L 383.933232 151.04183 
L 385.905384 148.5828 
L 387.877536 139.019904 
L 391.82184 182.052936 
L 393.793992 192.98196 
L 395.766144 169.07472 
L 397.738296 128.773944 
L 399.710448 128.773944 
L 401.6826 132.872328 
L 403.654752 130.823136 
L 405.626904 137.927002 
L 407.599056 149.607396 
L 409.571208 174.812458 
L 413.515512 145.850544 
L 415.487664 149.265864 
L 417.459816 125.085398 
L 419.431968 117.981533 
L 421.40412 113.47331 
L 423.376272 125.085398 
L 425.348424 143.118288 
L 427.320576 143.801352 
L 429.292728 134.238456 
L 431.26488 119.894112 
L 433.237032 137.927002 
L 435.209184 150.358766 
L 437.181336 122.626368 
L 439.153488 115.454196 
L 441.12564 116.683711 
L 443.097792 114.156374 
L 445.069944 105.754687 
L 447.042096 119.894112 
L 449.014248 130.140072 
L 450.9864 127.612735 
L 452.958552 117.981533 
L 454.930704 116.683711 
L 456.902856 117.366775 
L 458.875008 125.085398 
L 460.84716 137.927002 
L 462.819312 130.140072 
L 464.791464 121.26024 
L 466.763616 114.156374 
L 468.735768 117.503388 
L 470.70792 118.80121 
L 472.680072 116.478792 
L 474.652224 115.590809 
L 476.624376 109.170007 
L 478.596528 112.790246 
L 480.56868 115.522502 
L 482.540832 111.97057 
L 484.512984 104.866704 
L 486.485136 103.568882 
L 488.457288 107.59896 
L 490.42944 102.134448 
L 492.401592 108.965088 
L 494.373744 101.451384 
L 496.345896 106.232832 
L 498.318048 114.4296 
L 500.2902 131.5062 
L 502.262352 135.809503 
L 504.234504 133.21386 
L 506.206656 123.514351 
L 508.178808 114.4296 
L 510.15096 129.935153 
L 512.123112 137.653776 
L 514.095264 147.284978 
L 516.067416 134.92152 
L 518.039568 130.823136 
L 520.01172 128.773944 
L 521.983872 124.67556 
L 523.956024 121.26024 
L 525.928176 141.478934 
L 527.900328 160.53642 
L 529.87248 147.899736 
L 531.844632 137.653776 
L 533.816784 136.970712 
L 535.788936 135.604584 
L 537.761088 138.33684 
L 539.73324 141.478934 
L 541.705392 142.776756 
L 543.677544 146.670221 
L 545.649696 148.5828 
L 547.621848 145.372399 
L 549.594 142.776756 
L 551.566152 171.806976 
L 553.538304 171.123912 
L 555.510456 162.24408 
L 557.482608 155.003602 
L 559.45476 152.407958 
L 561.426912 153.091022 
L 563.399064 162.24408 
L 565.371216 151.315056 
L 567.343368 142.161998 
L 569.31552 160.877952 
L 571.287672 167.230447 
L 573.259824 176.86165 
L 575.231976 173.651249 
L 577.204128 174.94907 
L 579.17628 185.263337 
L 581.148432 189.703253 
L 585.092736 178.774229 
L 587.064888 165.932626 
L 589.03704 180.003744 
L 591.009192 190.249704 
L 592.981344 185.263337 
L 594.953496 169.757784 
L 596.925648 166.342464 
L 598.8978 162.24408 
L 600.869952 167.708592 
L 602.842104 171.806976 
L 604.814256 169.757784 
L 606.786408 158.145696 
L 608.75856 171.806976 
L 610.730712 188.542044 
L 612.702864 195.031152 
L 614.675016 198.241553 
L 616.647168 182.121242 
L 618.61932 176.998262 
L 624.535776 192.435509 
L 626.507928 195.031152 
L 628.48008 210.05856 
L 630.452232 211.424688 
L 632.424384 224.539517 
L 634.396536 214.156944 
L 636.368688 192.435509 
L 638.34084 210.400092 
L 640.312992 212.312671 
L 642.285144 193.665024 
L 644.257296 202.681469 
L 646.229448 231.028625 
L 648.2016 250.359336 
L 650.173752 233.555962 
L 652.145904 222.01218 
L 654.118056 220.714358 
L 656.090208 208.692432 
L 658.06236 210.741624 
L 660.034512 230.345561 
L 662.006664 215.523072 
L 663.978816 218.118715 
L 665.950968 244.894824 
L 667.92312 237.38112 
L 669.895272 220.714358 
L 671.867424 205.277112 
L 673.839576 202.681469 
L 675.811728 205.277112 
L 677.78388 211.083156 
L 681.728184 233.555962 
L 683.700336 218.118715 
L 685.672488 224.539517 
L 687.64464 229.184352 
L 689.616792 226.452096 
L 691.588944 234.853783 
L 693.561096 246.397565 
L 695.533248 263.679084 
L 697.5054 251.588851 
L 699.477552 234.853783 
L 701.449704 225.837338 
L 703.421856 229.730803 
L 705.394008 245.782807 
L 707.36616 224.539517 
L 709.338312 216.206136 
L 711.310464 223.310002 
L 713.282616 234.853783 
L 715.254768 256.16538 
L 717.22692 264.362148 
L 719.199072 269.485128 
L 723.143376 238.747248 
L 725.115528 225.769032 
L 727.08768 210.741624 
L 729.059832 222.353712 
L 731.031984 238.064184 
L 733.004136 270.509724 
L 734.976288 268.119 
L 736.94844 266.41134 
L 738.920592 260.946828 
L 740.892744 259.239168 
L 742.864896 252.203609 
L 744.837048 258.556104 
L 746.8092 254.116188 
L 748.781352 242.572406 
L 750.753504 239.976763 
L 754.697808 273.446899 
L 756.66996 286.288502 
L 758.642112 264.430454 
L 760.614264 254.799252 
L 762.586416 258.556104 
L 764.558568 265.045212 
L 766.53072 258.009653 
L 768.502872 265.728276 
L 770.475024 266.343034 
L 772.447176 264.430454 
L 774.419328 260.605296 
L 774.419328 260.605296 
" clip-path="url(#p9ce7e25676)" style="fill: none; stroke-dasharray: 3.7,1.6; stroke-dashoffset: 0; stroke: #add8e6"/>
</g>
<g id="line2d_44">
<path d="M 56.556 236.014992 
L 58.528152 218.938392 
L 60.500304 230.55048 
L 62.472456 247.62708 
L 64.444608 273.583512 
L 66.41676 305.345988 
L 68.388912 299.539944 
L 70.361064 244.484986 
L 72.333216 245.851114 
L 74.305368 248.993208 
L 76.27752 233.9658 
L 78.249672 242.845632 
L 80.221824 240.113376 
L 82.193976 251.725464 
L 84.166128 246.67079 
L 86.13828 257.87304 
L 88.110432 285.878664 
L 90.082584 284.922374 
L 92.054736 275.632704 
L 94.026888 267.435936 
L 95.99904 260.195458 
L 97.971192 262.859407 
L 99.943344 266.069808 
L 101.915496 294.553577 
L 103.887648 257.87304 
L 105.8598 240.113376 
L 107.831952 251.0424 
L 109.804104 227.13516 
L 111.776256 230.55048 
L 113.748408 241.479504 
L 115.72056 272.217384 
L 117.692712 233.9658 
L 119.664864 244.21176 
L 121.637016 265.591663 
L 123.609168 240.79644 
L 125.58132 241.479504 
L 127.553472 264.70368 
L 129.525624 270.168192 
L 131.497776 247.62708 
L 133.469928 229.184352 
L 135.44208 219.143311 
L 137.414232 219.143311 
L 139.386384 230.55048 
L 141.358536 248.993208 
L 143.330688 289.157371 
L 145.30284 271.53432 
L 147.274992 227.13516 
L 149.247144 199.880906 
L 151.219296 216.8892 
L 153.191448 241.75273 
L 155.1636 195.372684 
L 157.135752 196.39728 
L 159.107904 190.454623 
L 161.080056 191.342606 
L 163.052208 199.129536 
L 165.02436 199.8126 
L 166.996512 195.850829 
L 168.968664 208.009368 
L 170.940816 218.938392 
L 172.912968 227.818224 
L 174.88512 230.55048 
L 176.857272 232.25814 
L 178.829424 251.0424 
L 180.801576 255.140784 
L 182.773728 262.859407 
L 184.74588 259.922232 
L 186.718032 253.774656 
L 188.690184 261.28836 
L 190.662336 280.004314 
L 192.634488 252.408528 
L 194.60664 237.38112 
L 196.578792 229.867416 
" clip-path="url(#p9ce7e25676)" style="fill: none; stroke: #000000; stroke-width: 0.8; stroke-linecap: square"/>
</g>
<g id="patch_9">
<path d="M 56.52 320.76 
L 56.52 43.56 
" style="fill: none; stroke: #000000; stroke-width: 0.8; stroke-linejoin: miter; stroke-linecap: square"/>
</g>
<g id="patch_10">
<path d="M 774.36 320.76 
L 774.36 43.56 
" style="fill: none; stroke: #000000; stroke-width: 0.8; stroke-linejoin: miter; stroke-linecap: square"/>
</g>
<g id="patch_11">
<path d="M 56.52 320.76 
L 774.36 320.76 
" style="fill: none; stroke: #000000; stroke-width: 0.8; stroke-linejoin: miter; stroke-linecap: square"/>
</g>
<g id="patch_12">
<path d="M 56.52 43.56 
L 774.36 43.56 
" style="fill: none; stroke: #000000; stroke-width: 0.8; stroke-linejoin: miter; stroke-linecap: square"/>
</g>
<g id="line2d_45">
<path d="M 56.556 237.38112 
L 58.528152 219.621456 
L 60.500304 214.156944 
L 62.472456 224.402904 
L 64.444608 241.479504 
L 66.41676 260.605296 
L 70.361064 227.340079 
L 72.333216 228.706207 
L 74.305368 219.211618 
L 76.27752 227.818224 
L 78.249672 242.640713 
L 80.221824 228.706207 
L 82.193976 233.624268 
L 84.166128 232.736285 
L 86.13828 235.400234 
L 88.110432 246.602484 
L 90.082584 238.610635 
L 92.054736 240.386602 
L 94.026888 243.050551 
L 95.99904 227.13516 
L 97.971192 206.64324 
L 99.943344 199.8126 
L 101.915496 197.285263 
L 103.887648 196.670506 
L 105.8598 192.435509 
L 107.831952 202.544856 
L 109.804104 226.452096 
L 111.776256 227.818224 
L 113.748408 240.79644 
L 115.72056 238.747248 
L 117.692712 230.55048 
L 119.664864 237.38112 
L 121.637016 240.386602 
L 123.609168 237.38112 
L 125.58132 225.085968 
L 127.553472 236.356524 
L 129.525624 236.766362 
L 133.469928 229.59419 
L 135.44208 245.577888 
L 137.414232 242.162568 
L 139.386384 228.501288 
L 141.358536 210.741624 
L 143.330688 188.542044 
L 145.30284 206.64324 
L 147.274992 228.501288 
L 149.247144 224.061372 
L 151.219296 215.864604 
L 153.191448 220.30452 
L 155.1636 211.288075 
L 157.135752 211.083156 
L 159.107904 221.670648 
L 161.080056 252.954979 
L 163.052208 255.687235 
L 165.02436 240.386602 
L 166.996512 252.954979 
L 168.968664 257.463202 
L 170.940816 257.87304 
L 172.912968 249.403046 
L 174.88512 244.894824 
L 176.857272 244.894824 
L 178.829424 248.515063 
L 180.801576 240.386602 
L 182.773728 231.575076 
L 184.74588 236.014992 
L 186.718032 249.403046 
L 188.690184 261.971424 
L 190.662336 253.774656 
L 192.634488 257.053363 
L 194.60664 249.403046 
L 196.578792 234.102413 
L 198.550944 234.990396 
L 200.523096 244.21176 
L 202.495248 234.990396 
L 204.4674 212.107752 
L 206.439552 201.861792 
L 208.411704 201.315341 
L 210.383856 184.990111 
L 212.356008 214.566782 
L 214.32816 227.408386 
L 216.300312 214.566782 
L 218.272464 210.946543 
L 222.216768 238.064184 
L 224.18892 253.774656 
L 226.161072 238.064184 
L 228.133224 217.094119 
L 230.105376 226.793628 
L 232.077528 220.987584 
L 234.04968 227.408386 
L 236.021832 234.443945 
L 237.993984 214.566782 
L 239.966136 210.05856 
L 241.938288 208.760738 
L 247.854744 168.733188 
L 249.826896 185.19503 
L 251.799048 190.932768 
L 253.7712 185.878094 
L 255.743352 198.10494 
L 257.715504 205.277112 
L 259.687656 202.544856 
L 261.659808 221.670648 
L 263.63196 219.621456 
L 265.604112 192.98196 
L 267.576264 184.990111 
L 269.548416 218.391941 
L 271.520568 233.282736 
L 273.49272 213.268961 
L 275.464872 208.145981 
L 277.437024 202.544856 
L 279.409176 195.031152 
L 281.381328 193.665024 
L 283.35348 195.509297 
L 285.325632 199.402762 
L 287.297784 212.585897 
L 289.269936 205.960176 
L 291.242088 210.05856 
L 293.21424 211.424688 
L 295.186392 220.30452 
L 297.158544 223.036776 
L 299.130696 217.094119 
L 301.102848 195.509297 
L 303.075 190.249704 
L 305.047152 200.632277 
L 307.019304 203.910984 
L 308.991456 195.509297 
L 310.963608 187.790674 
L 312.93576 185.19503 
L 314.907912 186.492852 
L 316.880064 189.088495 
L 318.852216 192.298896 
L 320.824368 206.64324 
L 322.79652 203.910984 
L 324.768672 186.492852 
L 326.740824 174.266006 
L 328.712976 195.031152 
L 332.65728 190.932768 
L 334.629432 189.088495 
L 336.601584 199.402762 
L 340.545888 160.877952 
L 342.51804 151.315056 
L 344.490192 146.533608 
L 346.462344 142.435224 
L 348.434496 137.312244 
L 350.406648 133.555392 
L 352.3788 131.779426 
L 354.350952 132.189264 
L 356.323104 151.04183 
L 358.295256 166.683996 
L 360.267408 158.145696 
L 362.23956 160.673033 
L 364.211712 141.75216 
L 366.183864 120.167338 
L 368.156016 122.626368 
L 370.128168 141.75216 
L 372.10032 156.096504 
L 374.072472 158.487228 
L 376.044624 158.145696 
L 378.016776 148.5828 
L 379.988928 137.927002 
L 381.96108 129.593621 
L 383.933232 137.927002 
L 385.905384 136.014422 
L 387.877536 126.724752 
L 389.849688 141.75216 
L 391.82184 160.673033 
L 393.793992 160.673033 
L 395.766144 143.118288 
L 397.738296 123.309432 
L 399.710448 121.943304 
L 401.6826 130.823136 
L 403.654752 128.295799 
L 405.626904 129.593621 
L 407.599056 133.555392 
L 409.571208 145.850544 
L 411.54336 144.484416 
L 413.515512 127.407816 
L 415.487664 136.014422 
L 417.459816 122.626368 
L 419.431968 116.068954 
L 421.40412 111.01428 
L 423.376272 118.527984 
L 425.348424 128.295799 
L 427.320576 131.5062 
L 429.292728 127.612735 
L 431.26488 114.497906 
L 433.237032 115.454196 
L 435.209184 127.885961 
L 437.181336 118.527984 
L 439.153488 113.063472 
L 441.12564 111.97057 
L 443.097792 109.648152 
L 445.069944 102.134448 
L 447.042096 112.380408 
L 449.014248 119.894112 
L 450.9864 113.268391 
L 452.958552 114.156374 
L 454.930704 113.47331 
L 456.902856 116.478792 
L 458.875008 113.063472 
L 460.84716 119.894112 
L 462.819312 118.869516 
L 464.791464 120.167338 
L 466.763616 106.437751 
L 468.735768 112.380408 
L 470.70792 110.331216 
L 472.680072 104.525172 
L 474.652224 96.806549 
L 476.624376 95.303808 
L 478.596528 105.549768 
L 480.56868 111.287506 
L 482.540832 105.549768 
L 484.512984 102.954125 
L 486.485136 102.271061 
L 488.457288 106.232832 
L 490.42944 99.06066 
L 492.401592 107.59896 
L 494.373744 98.855741 
L 496.345896 104.18364 
L 498.318048 113.200085 
L 500.2902 121.601772 
L 502.262352 119.894112 
L 504.234504 117.161856 
L 506.206656 113.200085 
L 508.178808 106.232832 
L 510.15096 122.21653 
L 512.123112 128.09088 
L 514.095264 134.92152 
L 516.067416 131.232974 
L 518.039568 128.09088 
L 521.983872 120.30395 
L 523.956024 111.287506 
L 525.928176 131.5062 
L 527.900328 145.987157 
L 529.87248 139.702968 
L 531.844632 134.238456 
L 533.816784 135.126439 
L 535.788936 133.555392 
L 537.761088 137.653776 
L 539.73324 141.478934 
L 541.705392 135.604584 
L 543.677544 135.604584 
L 545.649696 130.823136 
L 547.621848 139.702968 
L 549.594 140.864177 
L 551.566152 170.440848 
L 553.538304 168.528269 
L 555.510456 156.916181 
L 557.482608 145.987157 
L 559.45476 144.074578 
L 561.426912 144.689335 
L 563.399064 147.899736 
L 565.371216 137.653776 
L 567.343368 128.09088 
L 569.31552 139.702968 
L 571.287672 146.670221 
L 573.259824 156.916181 
L 577.204128 172.49004 
L 579.17628 184.102128 
L 581.148432 187.517448 
L 583.120584 181.369872 
L 587.064888 164.020046 
L 589.03704 177.544714 
L 591.009192 189.703253 
L 592.981344 182.736 
L 594.953496 155.003602 
L 596.925648 156.779568 
L 598.8978 158.82876 
L 600.869952 164.088353 
L 604.814256 167.913511 
L 606.786408 155.823278 
L 608.75856 169.484558 
L 610.730712 186.15132 
L 612.702864 186.629465 
L 614.675016 197.558489 
L 616.647168 180.208663 
L 618.61932 171.806976 
L 620.591472 176.383505 
L 622.563624 175.700441 
L 624.535776 187.927286 
L 626.507928 184.785192 
L 628.48008 191.752445 
L 630.452232 191.752445 
L 632.424384 186.014707 
L 634.396536 178.910842 
L 636.368688 176.725037 
L 638.34084 183.419064 
L 640.312992 196.39728 
L 642.285144 187.312529 
L 644.257296 184.990111 
L 646.229448 202.681469 
L 648.2016 211.083156 
L 650.173752 200.76889 
L 652.145904 217.572264 
L 654.118056 209.375496 
L 656.090208 203.364533 
L 658.06236 200.154132 
L 660.034512 209.375496 
L 662.006664 211.697914 
L 663.978816 187.517448 
L 665.950968 233.555962 
L 667.92312 216.8892 
L 669.895272 217.572264 
L 671.867424 203.97929 
L 673.839576 200.154132 
L 675.811728 180.208663 
L 677.78388 178.022858 
L 679.756032 187.312529 
L 681.728184 217.572264 
L 683.700336 207.326304 
L 685.672488 195.714216 
L 687.64464 191.137687 
L 689.616792 185.741482 
L 691.588944 199.471068 
L 693.561096 210.741624 
L 695.533248 225.837338 
L 697.5054 245.16805 
L 699.477552 218.118715 
L 701.449704 208.145981 
L 703.421856 188.337125 
L 707.36616 201.451954 
L 709.338312 203.97929 
L 711.310464 208.145981 
L 713.282616 194.348088 
L 715.254768 237.38112 
L 717.22692 257.87304 
L 719.199072 239.430312 
L 721.171224 226.110564 
L 723.143376 228.159756 
L 725.115528 215.523072 
L 727.08768 204.730661 
L 729.059832 202.886388 
L 731.031984 207.326304 
L 733.004136 231.028625 
L 734.976288 235.468541 
L 736.94844 230.687093 
L 738.920592 246.944016 
L 740.892744 251.588851 
L 744.837048 241.274585 
L 746.8092 225.973951 
L 748.781352 237.38112 
L 750.753504 231.028625 
L 752.725656 241.274585 
L 754.697808 247.695386 
L 756.66996 243.870228 
L 758.642112 211.424688 
L 760.614264 206.165095 
L 762.586416 202.954694 
L 764.558568 206.848159 
L 766.53072 215.18154 
L 768.502872 242.572406 
L 770.475024 252.203609 
L 772.447176 257.326589 
L 774.419328 258.009653 
L 774.419328 258.009653 
" clip-path="url(#p9ce7e25676)" style="fill: none; stroke: #000000; stroke-width: 2; stroke-linecap: square"/>
</g>
<g id="patch_13">
<path d="M 135.9576 343.08 
L 694.9224 343.08 
Q 697.32 343.08 697.32 345.4776 
L 697.32 366.2424 
Q 697.32 368.64 694.9224 368.64 
L 135.9576 368.64 
Q 133.56 368.64 133.56 366.2424 
L 133.56 345.4776 
Q 133.56 343.08 135.9576 343.08 
z
" style="fill: #ffffff; fill-opacity: 0.8; stroke: #cccccc; stroke-opacity: 0.8; stroke-linejoin: miter"/>
</g>
<g id="legend_1">
<g id="line2d_46">
<path d="M 137.815443 353.830845 
L 149.815443 353.830845 
L 161.815443 353.830845 
" style="fill: none; stroke-dasharray: 2.072,0.896; stroke-dashoffset: 0; stroke: #ff0000; stroke-width: 0.56"/>
</g>
<g id="text_22">
<!-- Percentil 95 -->
<g transform="translate(171.415443 358.030845) scale(0.12 -0.12)">
<defs>
<path id="DejaVuSans-50" d="M 1259 4147 
L 1259 2394 
L 2053 2394 
Q 2494 2394 2734 2622 
Q 2975 2850 2975 3272 
Q 2975 3691 2734 3919 
Q 2494 4147 2053 4147 
L 1259 4147 
z
M 628 4666 
L 2053 4666 
Q 2838 4666 3239 4311 
Q 3641 3956 3641 3272 
Q 3641 2581 3239 2228 
Q 2838 1875 2053 1875 
L 1259 1875 
L 1259 0 
L 628 0 
L 628 4666 
z
" transform="scale(0.015625)"/>
<path id="DejaVuSans-20" transform="scale(0.015625)"/>
<path id="DejaVuSans-39" d="M 703 97 
L 703 672 
Q 941 559 1184 500 
Q 1428 441 1663 441 
Q 2288 441 2617 861 
Q 2947 1281 2994 2138 
Q 2813 1869 2534 1725 
Q 2256 1581 1919 1581 
Q 1219 1581 811 2004 
Q 403 2428 403 3163 
Q 403 3881 828 4315 
Q 1253 4750 1959 4750 
Q 2769 4750 3195 4129 
Q 3622 3509 3622 2328 
Q 3622 1225 3098 567 
Q 2575 -91 1691 -91 
Q 1453 -91 1209 -44 
Q 966 3 703 97 
z
M 1959 2075 
Q 2384 2075 2632 2365 
Q 2881 2656 2881 3163 
Q 2881 3666 2632 3958 
Q 2384 4250 1959 4250 
Q 1534 4250 1286 3958 
Q 1038 3666 1038 3163 
Q 1038 2656 1286 2365 
Q 1534 2075 1959 2075 
z
" transform="scale(0.015625)"/>
</defs>
<use href="#DejaVuSans-50"/>
<use href="#DejaVuSans-65" transform="translate(56.677734 0)"/>
<use href="#DejaVuSans-72" transform="translate(118.201172 0)"/>
<use href="#DejaVuSans-63" transform="translate(157.064453 0)"/>
<use href="#DejaVuSans-65" transform="translate(212.044922 0)"/>
<use href="#DejaVuSans-6e" transform="translate(273.568359 0)"/>
<use href="#DejaVuSans-74" transform="translate(336.947266 0)"/>
<use href="#DejaVuSans-69" transform="translate(376.15625 0)"/>
<use href="#DejaVuSans-6c" transform="translate(403.939453 0)"/>
<use href="#DejaVuSans-20" transform="translate(431.722656 0)"/>
<use href="#DejaVuSans-39" transform="translate(463.509766 0)"/>
<use href="#DejaVuSans-35" transform="translate(527.132812 0)"/>
</g>
</g>
<g id="line2d_47">
<path d="M 266.305443 353.830845 
L 278.305443 353.830845 
L 290.305443 353.830845 
" style="fill: none; stroke-dasharray: 3.7,1.6; stroke-dashoffset: 0; stroke: #add8e6"/>
</g>
<g id="text_23">
<!-- Percentil 5 -->
<g transform="translate(299.905443 358.030845) scale(0.12 -0.12)">
<use href="#DejaVuSans-50"/>
<use href="#DejaVuSans-65" transform="translate(56.677734 0)"/>
<use href="#DejaVuSans-72" transform="translate(118.201172 0)"/>
<use href="#DejaVuSans-63" transform="translate(157.064453 0)"/>
<use href="#DejaVuSans-65" transform="translate(212.044922 0)"/>
<use href="#DejaVuSans-6e" transform="translate(273.568359 0)"/>
<use href="#DejaVuSans-74" transform="translate(336.947266 0)"/>
<use href="#DejaVuSans-69" transform="translate(376.15625 0)"/>
<use href="#DejaVuSans-6c" transform="translate(403.939453 0)"/>
<use href="#DejaVuSans-20" transform="translate(431.722656 0)"/>
<use href="#DejaVuSans-35" transform="translate(463.509766 0)"/>
</g>
</g>
<g id="line2d_48">
<path d="M 387.160443 353.830845 
L 399.160443 353.830845 
L 411.160443 353.830845 
" style="fill: none; stroke: #000000; stroke-width: 2; stroke-linecap: square"/>
</g>
<g id="text_24">
<!-- Temperatura Mediana -->
<g transform="translate(420.760443 358.030845) scale(0.12 -0.12)">
<defs>
<path id="DejaVuSans-54" d="M -19 4666 
L 3928 4666 
L 3928 4134 
L 2272 4134 
L 2272 0 
L 1638 0 
L 1638 4134 
L -19 4134 
L -19 4666 
z
" transform="scale(0.015625)"/>
<path id="DejaVuSans-6d" d="M 3328 2828 
Q 3544 3216 3844 3400 
Q 4144 3584 4550 3584 
Q 5097 3584 5394 3201 
Q 5691 2819 5691 2113 
L 5691 0 
L 5113 0 
L 5113 2094 
Q 5113 2597 4934 2840 
Q 4756 3084 4391 3084 
Q 3944 3084 3684 2787 
Q 3425 2491 3425 1978 
L 3425 0 
L 2847 0 
L 2847 2094 
Q 2847 2600 2669 2842 
Q 2491 3084 2119 3084 
Q 1678 3084 1418 2786 
Q 1159 2488 1159 1978 
L 1159 0 
L 581 0 
L 581 3500 
L 1159 3500 
L 1159 2956 
Q 1356 3278 1631 3431 
Q 1906 3584 2284 3584 
Q 2666 3584 2933 3390 
Q 3200 3197 3328 2828 
z
" transform="scale(0.015625)"/>
<path id="DejaVuSans-64" d="M 2906 2969 
L 2906 4863 
L 3481 4863 
L 3481 0 
L 2906 0 
L 2906 525 
Q 2725 213 2448 61 
Q 2172 -91 1784 -91 
Q 1150 -91 751 415 
Q 353 922 353 1747 
Q 353 2572 751 3078 
Q 1150 3584 1784 3584 
Q 2172 3584 2448 3432 
Q 2725 3281 2906 2969 
z
M 947 1747 
Q 947 1113 1208 752 
Q 1469 391 1925 391 
Q 2381 391 2643 752 
Q 2906 1113 2906 1747 
Q 2906 2381 2643 2742 
Q 2381 3103 1925 3103 
Q 1469 3103 1208 2742 
Q 947 2381 947 1747 
z
" transform="scale(0.015625)"/>
</defs>
<use href="#DejaVuSans-54"/>
<use href="#DejaVuSans-65" transform="translate(44.083984 0)"/>
<use href="#DejaVuSans-6d" transform="translate(105.607422 0)"/>
<use href="#DejaVuSans-70" transform="translate(203.019531 0)"/>
<use href="#DejaVuSans-65" transform="translate(266.496094 0)"/>
<use href="#DejaVuSans-72" transform="translate(328.019531 0)"/>
<use href="#DejaVuSans-61" transform="translate(369.132812 0)"/>
<use href="#DejaVuSans-74" transform="translate(430.412109 0)"/>
<use href="#DejaVuSans-75" transform="translate(469.621094 0)"/>
<use href="#DejaVuSans-72" transform="translate(533 0)"/>
<use href="#DejaVuSans-61" transform="translate(574.113281 0)"/>
<use href="#DejaVuSans-20" transform="translate(635.392578 0)"/>
<use href="#DejaVuSans-4d" transform="translate(667.179688 0)"/>
<use href="#DejaVuSans-65" transform="translate(753.458984 0)"/>
<use href="#DejaVuSans-64" transform="translate(814.982422 0)"/>
<use href="#DejaVuSans-69" transform="translate(878.458984 0)"/>
<use href="#DejaVuSans-61" transform="translate(906.242188 0)"/>
<use href="#DejaVuSans-6e" transform="translate(967.521484 0)"/>
<use href="#DejaVuSans-61" transform="translate(1030.900391 0)"/>
</g>
</g>
<g id="line2d_49">
<path d="M 575.822943 353.830845 
L 587.822943 353.830845 
L 599.822943 353.830845 
" style="fill: none; stroke: #000000; stroke-width: 0.8; stroke-linecap: square"/>
</g>
<g id="text_25">
<!-- T. Media 2026 -->
<g transform="translate(609.422943 358.030845) scale(0.12 -0.12)">
<defs>
<path id="DejaVuSans-2e" d="M 684 794 
L 1344 794 
L 1344 0 
L 684 0 
L 684 794 
z
" transform="scale(0.015625)"/>
<path id="DejaVuSans-36" d="M 2113 2584 
Q 1688 2584 1439 2293 
Q 1191 2003 1191 1497 
Q 1191 994 1439 701 
Q 1688 409 2113 409 
Q 2538 409 2786 701 
Q 3034 994 3034 1497 
Q 3034 2003 2786 2293 
Q 2538 2584 2113 2584 
z
M 3366 4563 
L 3366 3988 
Q 3128 4100 2886 4159 
Q 2644 4219 2406 4219 
Q 1781 4219 1451 3797 
Q 1122 3375 1075 2522 
Q 1259 2794 1537 2939 
Q 1816 3084 2150 3084 
Q 2853 3084 3261 2657 
Q 3669 2231 3669 1497 
Q 3669 778 3244 343 
Q 2819 -91 2113 -91 
Q 1303 -91 875 529 
Q 447 1150 447 2328 
Q 447 3434 972 4092 
Q 1497 4750 2381 4750 
Q 2619 4750 2861 4703 
Q 3103 4656 3366 4563 
z
" transform="scale(0.015625)"/>
</defs>
<use href="#DejaVuSans-54"/>
<use href="#DejaVuSans-2e" transform="translate(49.208984 0)"/>
<use href="#DejaVuSans-20" transform="translate(80.996094 0)"/>
<use href="#DejaVuSans-4d" transform="translate(112.783203 0)"/>
<use href="#DejaVuSans-65" transform="translate(199.0625 0)"/>
<use href="#DejaVuSans-64" transform="translate(260.585938 0)"/>
<use href="#DejaVuSans-69" transform="translate(324.0625 0)"/>
<use href="#DejaVuSans-61" transform="translate(351.845703 0)"/>
<use href="#DejaVuSans-20" transform="translate(413.125 0)"/>
<use href="#DejaVuSans-32" transform="translate(444.912109 0)"/>
<use href="#DejaVuSans-30" transform="translate(508.535156 0)"/>
<use href="#DejaVuSans-32" transform="translate(572.158203 0)"/>
<use href="#DejaVuSans-36" transform="translate(635.78125 0)"/>
</g>
</g>
</g>
</g>
<g id="line2d_50">
<path d="M 56.52 320.76 
L 56.52 324.26 
" style="fill: none; stroke: #000000; stroke-width: 0.8"/>
</g>
<g id="line2d_51">
<path d="M 117.72 320.76 
L 117.72 324.26 
" style="fill: none; stroke: #000000; stroke-width: 0.8"/>
</g>
<g id="line2d_52">
<path d="M 173.16 320.76 
L 173.16 324.26 
" style="fill: none; stroke: #000000; stroke-width: 0.8"/>
</g>
<g id="line2d_53">
<path d="M 234.36 320.76 
L 234.36 324.26 
" style="fill: none; stroke: #000000; stroke-width: 0.8"/>
</g>
<g id="line2d_54">
<path d="M 293.4 320.76 
L 293.4 324.26 
" style="fill: none; stroke: #000000; stroke-width: 0.8"/>
</g>
<g id="line2d_55">
<path d="M 354.6 320.76 
L 354.6 324.26 
" style="fill: none; stroke: #000000; stroke-width: 0.8"/>
</g>
<g id="line2d_56">
<path d="M 413.64 320.76 
L 413.64 324.26 
" style="fill: none; stroke: #000000; stroke-width: 0.8"/>
</g>
<g id="line2d_57">
<path d="M 474.84 320.76 
L 474.84 324.26 
" style="fill: none; stroke: #000000; stroke-width: 0.8"/>
</g>
<g id="line2d_58">
<path d="M 536.04 320.76 
L 536.04 324.26 
" style="fill: none; stroke: #000000; stroke-width: 0.8"/>
</g>
<g id="line2d_59">
<path d="M 595.08 320.76 
L 595.08 324.26 
" style="fill: none; stroke: #000000; stroke-width: 0.8"/>
</g>
<g id="line2d_60">
<path d="M 656.28 320.76 
L 656.28 324.26 
" style="fill: none; stroke: #000000; stroke-width: 0.8"/>
</g>
<g id="line2d_61">
<path d="M 715.32 320.76 
L 715.32 324.26 
" style="fill: none; stroke: #000000; stroke-width: 0.8"/>
</g>
<g id="line2d_62">
<path d="M 53.02 319.32 
L 56.52 319.32 
" style="fill: none; stroke: #000000; stroke-width: 0.8"/>
</g>
<g id="line2d_63">
<path d="M 53.02 285.48 
L 56.52 285.48 
" style="fill: none; stroke: #000000; stroke-width: 0.8"/>
</g>
<g id="line2d_64">
<path d="M 53.02 250.92 
L 56.52 250.92 
" style="fill: none; stroke: #000000; stroke-width: 0.8"/>
</g>
<g id="line2d_65">
<path d="M 53.02 217.08 
L 56.52 217.08 
" style="fill: none; stroke: #000000; stroke-width: 0.8"/>
</g>
<g id="line2d_66">
<path d="M 53.02 182.52 
L 56.52 182.52 
" style="fill: none; stroke: #000000; stroke-width: 0.8"/>
</g>
<g id="line2d_67">
<path d="M 53.02 148.68 
L 56.52 148.68 
" style="fill: none; stroke: #000000; stroke-width: 0.8"/>
</g>
<g id="line2d_68">
<path d="M 53.02 114.12 
L 56.52 114.12 
" style="fill: none; stroke: #000000; stroke-width: 0.8"/>
</g>
<g id="line2d_69">
<path d="M 53.02 80.28 
L 56.52 80.28 
" style="fill: none; stroke: #000000; stroke-width: 0.8"/>
</g>
<g id="line2d_70">
<path d="M 53.02 46.44 
L 56.52 46.44 
" style="fill: none; stroke: #000000; stroke-width: 0.8"/>
</g>
<g id="text_26">
<!-- Temperatura Media diaria - Sierra Nevada -->
<g style="fill: #2e6da4" transform="translate(227.089969 22.896) scale(0.18 -0.18)">
<defs>
<path id="DejaVuSans-2d" d="M 313 2009 
L 1997 2009 
L 1997 1497 
L 313 1497 
L 313 2009 
z
" transform="scale(0.015625)"/>
</defs>
<use href="#DejaVuSans-54"/>
<use href="#DejaVuSans-65" transform="translate(44.083984 0)"/>
<use href="#DejaVuSans-6d" transform="translate(105.607422 0)"/>
<use href="#DejaVuSans-70" transform="translate(203.019531 0)"/>
<use href="#DejaVuSans-65" transform="translate(266.496094 0)"/>
<use href="#DejaVuSans-72" transform="translate(328.019531 0)"/>
<use href="#DejaVuSans-61" transform="translate(369.132812 0)"/>
<use href="#DejaVuSans-74" transform="translate(430.412109 0)"/>
<use href="#DejaVuSans-75" transform="translate(469.621094 0)"/>
<use href="#DejaVuSans-72" transform="translate(533 0)"/>
<use href="#DejaVuSans-61" transform="translate(574.113281 0)"/>
<use href="#DejaVuSans-20" transform="translate(635.392578 0)"/>
<use href="#DejaVuSans-4d" transform="translate(667.179688 0)"/>
<use href="#DejaVuSans-65" transform="translate(753.458984 0)"/>
<use href="#DejaVuSans-64" transform="translate(814.982422 0)"/>
<use href="#DejaVuSans-69" transform="translate(878.458984 0)"/>
<use href="#DejaVuSans-61" transform="translate(906.242188 0)"/>
<use href="#DejaVuSans-20" transform="translate(967.521484 0)"/>
<use href="#DejaVuSans-64" transform="translate(999.308594 0)"/>
<use href="#DejaVuSans-69" transform="translate(1062.785156 0)"/>
<use href="#DejaVuSans-61" transform="translate(1090.568359 0)"/>
<use href="#DejaVuSans-72" transform="translate(1151.847656 0)"/>
<use href="#DejaVuSans-69" transform="translate(1192.960938 0)"/>
<use href="#DejaVuSans-61" transform="translate(1220.744141 0)"/>
<use href="#DejaVuSans-20" transform="translate(1282.023438 0)"/>
<use href="#DejaVuSans-2d" transform="translate(1313.810547 0)"/>
<use href="#DejaVuSans-20" transform="translate(1349.894531 0)"/>
<use href="#DejaVuSans-53" transform="translate(1381.681641 0)"/>
<use href="#DejaVuSans-69" transform="translate(1445.158203 0)"/>
<use href="#DejaVuSans-65" transform="translate(1472.941406 0)"/>
<use href="#DejaVuSans-72" transform="translate(1534.464844 0)"/>
<use href="#DejaVuSans-72" transform="translate(1573.828125 0)"/>
<use href="#DejaVuSans-61" transform="translate(1614.941406 0)"/>
<use href="#DejaVuSans-20" transform="translate(1676.220703 0)"/>
<use href="#DejaVuSans-4e" transform="translate(1708.007812 0)"/>
<use href="#DejaVuSans-65" transform="translate(1782.8125 0)"/>
<use href="#DejaVuSans-76" transform="translate(1844.335938 0)"/>
<use href="#DejaVuSans-61" transform="translate(1903.515625 0)"/>
<use href="#DejaVuSans-64" transform="translate(1964.794922 0)"/>
<use href="#DejaVuSans-61" transform="translate(2028.271484 0)"/>
</g>
</g>
<g id="text_27">
<!-- °C -->
<g transform="translate(35.424 39.168) scale(0.12 -0.12)">
<defs>
<path id="DejaVuSans-b0" d="M 1600 4347 
Q 1350 4347 1178 4173 
Q 1006 4000 1006 3750 
Q 1006 3503 1178 3333 
Q 1350 3163 1600 3163 
Q 1850 3163 2022 3333 
Q 2194 3503 2194 3750 
Q 2194 3997 2020 4172 
Q 1847 4347 1600 4347 
z
M 1600 4750 
Q 1800 4750 1984 4673 
Q 2169 4597 2303 4453 
Q 2447 4313 2519 4134 
Q 2591 3956 2591 3750 
Q 2591 3338 2302 3052 
Q 2013 2766 1594 2766 
Q 1172 2766 890 3047 
Q 609 3328 609 3750 
Q 609 4169 896 4459 
Q 1184 4750 1600 4750 
z
" transform="scale(0.015625)"/>
<path id="DejaVuSans-43" d="M 4122 4306 
L 4122 3641 
Q 3803 3938 3442 4084 
Q 3081 4231 2675 4231 
Q 1875 4231 1450 3742 
Q 1025 3253 1025 2328 
Q 1025 1406 1450 917 
Q 1875 428 2675 428 
Q 3081 428 3442 575 
Q 3803 722 4122 1019 
L 4122 359 
Q 3791 134 3420 21 
Q 3050 -91 2638 -91 
Q 1578 -91 968 557 
Q 359 1206 359 2328 
Q 359 3453 968 4101 
Q 1578 4750 2638 4750 
Q 3056 4750 3426 4639 
Q 3797 4528 4122 4306 
z
" transform="scale(0.015625)"/>
</defs>
<use href="#DejaVuSans-b0"/>
<use href="#DejaVuSans-43" transform="translate(50 0)"/>
</g>
</g>
<g id="text_28">
<!-- Última temp: 2026-03-13 -->
<g transform="translate(59.76 39.168) scale(0.12 -0.12)">
<defs>
<path id="DejaVuSans-da" d="M 556 4666 
L 1191 4666 
L 1191 1831 
Q 1191 1081 1462 751 
Q 1734 422 2344 422 
Q 2950 422 3222 751 
Q 3494 1081 3494 1831 
L 3494 4666 
L 4128 4666 
L 4128 1753 
Q 4128 841 3676 375 
Q 3225 -91 2344 -91 
Q 1459 -91 1007 375 
Q 556 841 556 1753 
L 556 4666 
z
M 2516 5921 
L 3094 5921 
L 2382 5096 
L 1903 5096 
L 2516 5921 
z
" transform="scale(0.015625)"/>
<path id="DejaVuSans-3a" d="M 750 794 
L 1409 794 
L 1409 0 
L 750 0 
L 750 794 
z
M 750 3309 
L 1409 3309 
L 1409 2516 
L 750 2516 
L 750 3309 
z
" transform="scale(0.015625)"/>
</defs>
<use href="#DejaVuSans-da"/>
<use href="#DejaVuSans-6c" transform="translate(73.193359 0)"/>
<use href="#DejaVuSans-74" transform="translate(100.976562 0)"/>
<use href="#DejaVuSans-69" transform="translate(140.185547 0)"/>
<use href="#DejaVuSans-6d" transform="translate(167.96875 0)"/>
<use href="#DejaVuSans-61" transform="translate(265.380859 0)"/>
<use href="#DejaVuSans-20" transform="translate(326.660156 0)"/>
<use href="#DejaVuSans-74" transform="translate(358.447266 0)"/>
<use href="#DejaVuSans-65" transform="translate(397.65625 0)"/>
<use href="#DejaVuSans-6d" transform="translate(459.179688 0)"/>
<use href="#DejaVuSans-70" transform="translate(556.591797 0)"/>
<use href="#DejaVuSans-3a" transform="translate(620.068359 0)"/>
<use href="#DejaVuSans-20" transform="translate(653.759766 0)"/>
<use href="#DejaVuSans-32" transform="translate(685.546875 0)"/>
<use href="#DejaVuSans-30" transform="translate(749.169922 0)"/>
<use href="#DejaVuSans-32" transform="translate(812.792969 0)"/>
<use href="#DejaVuSans-36" transform="translate(876.416016 0)"/>
<use href="#DejaVuSans-2d" transform="translate(940.039062 0)"/>
<use href="#DejaVuSans-30" transform="translate(976.123047 0)"/>
<use href="#DejaVuSans-33" transform="translate(1039.746094 0)"/>
<use href="#DejaVuSans-2d" transform="translate(1103.369141 0)"/>
<use href="#DejaVuSans-31" transform="translate(1139.453125 0)"/>
<use href="#DejaVuSans-33" transform="translate(1203.076172 0)"/>
</g>
</g>
<g id="text_29">
<!-- WWW.EMBALSES.NET -->
<g style="fill: #2e6da4" transform="translate(64.08 60.336) scale(0.16 -0.16)">
<defs>
<path id="DejaVuSans-57" d="M 213 4666 
L 850 4666 
L 1831 722 
L 2809 4666 
L 3519 4666 
L 4500 722 
L 5478 4666 
L 6119 4666 
L 4947 0 
L 4153 0 
L 3169 4050 
L 2175 0 
L 1381 0 
L 213 4666 
z
" transform="scale(0.015625)"/>
<path id="DejaVuSans-42" d="M 1259 2228 
L 1259 519 
L 2272 519 
Q 2781 519 3026 730 
Q 3272 941 3272 1375 
Q 3272 1813 3026 2020 
Q 2781 2228 2272 2228 
L 1259 2228 
z
M 1259 4147 
L 1259 2741 
L 2194 2741 
Q 2656 2741 2882 2914 
Q 3109 3088 3109 3444 
Q 3109 3797 2882 3972 
Q 2656 4147 2194 4147 
L 1259 4147 
z
M 628 4666 
L 2241 4666 
Q 2963 4666 3353 4366 
Q 3744 4066 3744 3513 
Q 3744 3084 3544 2831 
Q 3344 2578 2956 2516 
Q 3422 2416 3680 2098 
Q 3938 1781 3938 1306 
Q 3938 681 3513 340 
Q 3088 0 2303 0 
L 628 0 
L 628 4666 
z
" transform="scale(0.015625)"/>
<path id="DejaVuSans-4c" d="M 628 4666 
L 1259 4666 
L 1259 531 
L 3531 531 
L 3531 0 
L 628 0 
L 628 4666 
z
" transform="scale(0.015625)"/>
</defs>
<use href="#DejaVuSans-57"/>
<use href="#DejaVuSans-57" transform="translate(98.876953 0)"/>
<use href="#DejaVuSans-57" transform="translate(197.753906 0)"/>
<use href="#DejaVuSans-2e" transform="translate(285.130859 0)"/>
<use href="#DejaVuSans-45" transform="translate(316.917969 0)"/>
<use href="#DejaVuSans-4d" transform="translate(380.101562 0)"/>
<use href="#DejaVuSans-42" transform="translate(466.380859 0)"/>
<use href="#DejaVuSans-41" transform="translate(534.984375 0)"/>
<use href="#DejaVuSans-4c" transform="translate(603.392578 0)"/>
<use href="#DejaVuSans-53" transform="translate(659.105469 0)"/>
<use href="#DejaVuSans-45" transform="translate(722.582031 0)"/>
<use href="#DejaVuSans-53" transform="translate(785.765625 0)"/>
<use href="#DejaVuSans-2e" transform="translate(849.242188 0)"/>
<use href="#DejaVuSans-4e" transform="translate(881.029297 0)"/>
<use href="#DejaVuSans-45" transform="translate(955.833984 0)"/>
<use href="#DejaVuSans-54" transform="translate(1019.017578 0)"/>
</g>
</g>
</g>
<defs>
<clipPath id="p9ce7e25676">
<rect x="56.52" y="43.56" width="717.84" height="277.2"/>
</clipPath>
</defs>
</svg>

</div></body></html>
